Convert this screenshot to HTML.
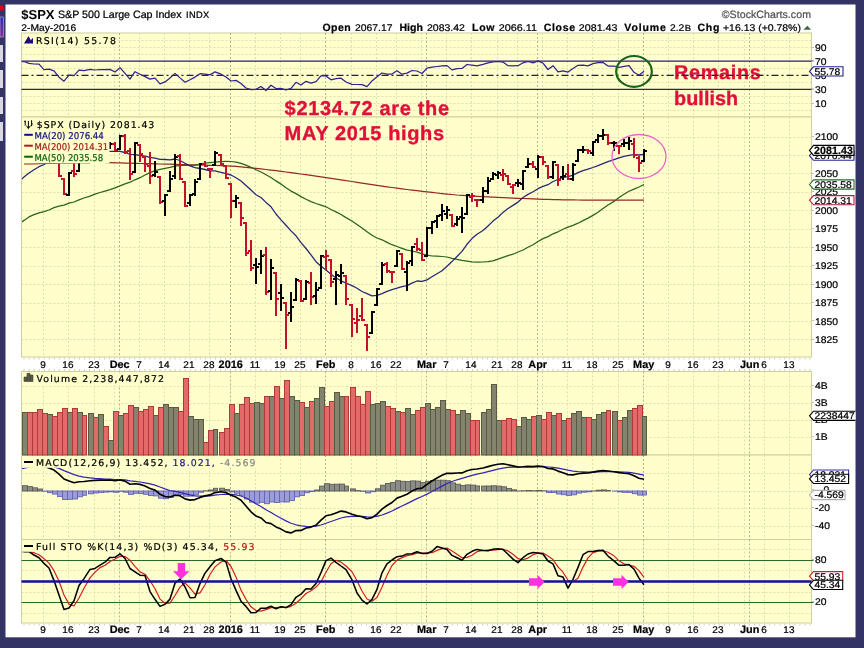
<!DOCTYPE html>
<html lang="en"><head><meta charset="utf-8"><title>$SPX S&amp;P 500 Large Cap Index</title>
<style>html,body{margin:0;padding:0;background:#333366;}body{width:864px;height:648px;overflow:hidden}svg{display:block}text{text-rendering:geometricPrecision}</style>
</head><body>
<svg width="864" height="648" viewBox="0 0 864 648">
<rect width="864" height="648" fill="#333366"/>
<rect x="5.5" y="4.5" width="850" height="632.8" fill="#fff"/>
<rect x="0" y="5.5" width="3.6" height="5" fill="#e8001c"/>
<defs><linearGradient id="lg" x1="0" y1="0" x2="0" y2="1"><stop offset="0" stop-color="#2a2ad0"/><stop offset="1" stop-color="#8a2a90"/></linearGradient></defs>
<rect x="0" y="17" width="3.4" height="20" fill="url(#lg)" stroke="#b8b8d8" stroke-width="0.6"/>
<rect x="0" y="45" width="3" height="17" fill="#d8d8e0"/>
<rect x="0" y="70" width="3" height="18" fill="#d8d8e0"/>
<rect x="0" y="97" width="3" height="17" fill="#d8d8e0"/>
<rect x="0" y="122" width="3" height="19" fill="#d8d8e0"/>
<rect x="21.5" y="33" width="790.0" height="84" fill="#ffffcc" stroke="#cfcf9f" stroke-width="1"/>
<rect x="21.5" y="117" width="790.0" height="240" fill="#ffffcc" stroke="#cfcf9f" stroke-width="1"/>
<rect x="21.5" y="371.5" width="790.0" height="83.5" fill="#ffffcc" stroke="#cfcf9f" stroke-width="1"/>
<rect x="21.5" y="455" width="790.0" height="84.5" fill="#ffffcc" stroke="#cfcf9f" stroke-width="1"/>
<rect x="21.5" y="539.5" width="790.0" height="83.5" fill="#ffffcc" stroke="#cfcf9f" stroke-width="1"/>
<line x1="43.5" y1="33" x2="43.5" y2="117" stroke="#dfdfb6" stroke-width="1" stroke-dasharray="2,2"/>
<line x1="68.5" y1="33" x2="68.5" y2="117" stroke="#dfdfb6" stroke-width="1" stroke-dasharray="2,2"/>
<line x1="94.5" y1="33" x2="94.5" y2="117" stroke="#dfdfb6" stroke-width="1" stroke-dasharray="2,2"/>
<line x1="114.5" y1="33" x2="114.5" y2="117" stroke="#dfdfb6" stroke-width="1" stroke-dasharray="2,2"/>
<line x1="139.5" y1="33" x2="139.5" y2="117" stroke="#dfdfb6" stroke-width="1" stroke-dasharray="2,2"/>
<line x1="164.5" y1="33" x2="164.5" y2="117" stroke="#dfdfb6" stroke-width="1" stroke-dasharray="2,2"/>
<line x1="189.5" y1="33" x2="189.5" y2="117" stroke="#dfdfb6" stroke-width="1" stroke-dasharray="2,2"/>
<line x1="209.5" y1="33" x2="209.5" y2="117" stroke="#dfdfb6" stroke-width="1" stroke-dasharray="2,2"/>
<line x1="255.5" y1="33" x2="255.5" y2="117" stroke="#dfdfb6" stroke-width="1" stroke-dasharray="2,2"/>
<line x1="280.5" y1="33" x2="280.5" y2="117" stroke="#dfdfb6" stroke-width="1" stroke-dasharray="2,2"/>
<line x1="300.5" y1="33" x2="300.5" y2="117" stroke="#dfdfb6" stroke-width="1" stroke-dasharray="2,2"/>
<line x1="351.5" y1="33" x2="351.5" y2="117" stroke="#dfdfb6" stroke-width="1" stroke-dasharray="2,2"/>
<line x1="376.5" y1="33" x2="376.5" y2="117" stroke="#dfdfb6" stroke-width="1" stroke-dasharray="2,2"/>
<line x1="396.5" y1="33" x2="396.5" y2="117" stroke="#dfdfb6" stroke-width="1" stroke-dasharray="2,2"/>
<line x1="421.5" y1="33" x2="421.5" y2="117" stroke="#dfdfb6" stroke-width="1" stroke-dasharray="2,2"/>
<line x1="446.5" y1="33" x2="446.5" y2="117" stroke="#dfdfb6" stroke-width="1" stroke-dasharray="2,2"/>
<line x1="471.5" y1="33" x2="471.5" y2="117" stroke="#dfdfb6" stroke-width="1" stroke-dasharray="2,2"/>
<line x1="497.5" y1="33" x2="497.5" y2="117" stroke="#dfdfb6" stroke-width="1" stroke-dasharray="2,2"/>
<line x1="517.5" y1="33" x2="517.5" y2="117" stroke="#dfdfb6" stroke-width="1" stroke-dasharray="2,2"/>
<line x1="542.5" y1="33" x2="542.5" y2="117" stroke="#dfdfb6" stroke-width="1" stroke-dasharray="2,2"/>
<line x1="567.5" y1="33" x2="567.5" y2="117" stroke="#dfdfb6" stroke-width="1" stroke-dasharray="2,2"/>
<line x1="592.5" y1="33" x2="592.5" y2="117" stroke="#dfdfb6" stroke-width="1" stroke-dasharray="2,2"/>
<line x1="618.5" y1="33" x2="618.5" y2="117" stroke="#dfdfb6" stroke-width="1" stroke-dasharray="2,2"/>
<line x1="668.5" y1="33" x2="668.5" y2="117" stroke="#dfdfb6" stroke-width="1" stroke-dasharray="2,2"/>
<line x1="693.5" y1="33" x2="693.5" y2="117" stroke="#dfdfb6" stroke-width="1" stroke-dasharray="2,2"/>
<line x1="718.5" y1="33" x2="718.5" y2="117" stroke="#dfdfb6" stroke-width="1" stroke-dasharray="2,2"/>
<line x1="744.5" y1="33" x2="744.5" y2="117" stroke="#dfdfb6" stroke-width="1" stroke-dasharray="2,2"/>
<line x1="764.5" y1="33" x2="764.5" y2="117" stroke="#dfdfb6" stroke-width="1" stroke-dasharray="2,2"/>
<line x1="789.5" y1="33" x2="789.5" y2="117" stroke="#dfdfb6" stroke-width="1" stroke-dasharray="2,2"/>
<line x1="119.5" y1="33" x2="119.5" y2="117" stroke="#b4b48c" stroke-width="1" stroke-dasharray="2,2"/>
<line x1="230.5" y1="33" x2="230.5" y2="117" stroke="#b4b48c" stroke-width="1" stroke-dasharray="2,2"/>
<line x1="325.5" y1="33" x2="325.5" y2="117" stroke="#b4b48c" stroke-width="1" stroke-dasharray="2,2"/>
<line x1="426.5" y1="33" x2="426.5" y2="117" stroke="#b4b48c" stroke-width="1" stroke-dasharray="2,2"/>
<line x1="537.5" y1="33" x2="537.5" y2="117" stroke="#b4b48c" stroke-width="1" stroke-dasharray="2,2"/>
<line x1="643.5" y1="33" x2="643.5" y2="117" stroke="#b4b48c" stroke-width="1" stroke-dasharray="2,2"/>
<line x1="749.5" y1="33" x2="749.5" y2="117" stroke="#b4b48c" stroke-width="1" stroke-dasharray="2,2"/>
<line x1="21.5" y1="40.5" x2="811.5" y2="40.5" stroke="#dfdfb6" stroke-width="1" stroke-dasharray="2,2"/>
<line x1="21.5" y1="47.5" x2="811.5" y2="47.5" stroke="#dfdfb6" stroke-width="1" stroke-dasharray="2,2"/>
<line x1="21.5" y1="54.5" x2="811.5" y2="54.5" stroke="#dfdfb6" stroke-width="1" stroke-dasharray="2,2"/>
<line x1="21.5" y1="68.5" x2="811.5" y2="68.5" stroke="#dfdfb6" stroke-width="1" stroke-dasharray="2,2"/>
<line x1="21.5" y1="82.5" x2="811.5" y2="82.5" stroke="#dfdfb6" stroke-width="1" stroke-dasharray="2,2"/>
<line x1="21.5" y1="96.5" x2="811.5" y2="96.5" stroke="#dfdfb6" stroke-width="1" stroke-dasharray="2,2"/>
<line x1="21.5" y1="103.5" x2="811.5" y2="103.5" stroke="#dfdfb6" stroke-width="1" stroke-dasharray="2,2"/>
<line x1="21.5" y1="110.5" x2="811.5" y2="110.5" stroke="#dfdfb6" stroke-width="1" stroke-dasharray="2,2"/>
<line x1="43.5" y1="117" x2="43.5" y2="357" stroke="#dfdfb6" stroke-width="1" stroke-dasharray="2,2"/>
<line x1="68.5" y1="117" x2="68.5" y2="357" stroke="#dfdfb6" stroke-width="1" stroke-dasharray="2,2"/>
<line x1="94.5" y1="117" x2="94.5" y2="357" stroke="#dfdfb6" stroke-width="1" stroke-dasharray="2,2"/>
<line x1="114.5" y1="117" x2="114.5" y2="357" stroke="#dfdfb6" stroke-width="1" stroke-dasharray="2,2"/>
<line x1="139.5" y1="117" x2="139.5" y2="357" stroke="#dfdfb6" stroke-width="1" stroke-dasharray="2,2"/>
<line x1="164.5" y1="117" x2="164.5" y2="357" stroke="#dfdfb6" stroke-width="1" stroke-dasharray="2,2"/>
<line x1="189.5" y1="117" x2="189.5" y2="357" stroke="#dfdfb6" stroke-width="1" stroke-dasharray="2,2"/>
<line x1="209.5" y1="117" x2="209.5" y2="357" stroke="#dfdfb6" stroke-width="1" stroke-dasharray="2,2"/>
<line x1="255.5" y1="117" x2="255.5" y2="357" stroke="#dfdfb6" stroke-width="1" stroke-dasharray="2,2"/>
<line x1="280.5" y1="117" x2="280.5" y2="357" stroke="#dfdfb6" stroke-width="1" stroke-dasharray="2,2"/>
<line x1="300.5" y1="117" x2="300.5" y2="357" stroke="#dfdfb6" stroke-width="1" stroke-dasharray="2,2"/>
<line x1="351.5" y1="117" x2="351.5" y2="357" stroke="#dfdfb6" stroke-width="1" stroke-dasharray="2,2"/>
<line x1="376.5" y1="117" x2="376.5" y2="357" stroke="#dfdfb6" stroke-width="1" stroke-dasharray="2,2"/>
<line x1="396.5" y1="117" x2="396.5" y2="357" stroke="#dfdfb6" stroke-width="1" stroke-dasharray="2,2"/>
<line x1="421.5" y1="117" x2="421.5" y2="357" stroke="#dfdfb6" stroke-width="1" stroke-dasharray="2,2"/>
<line x1="446.5" y1="117" x2="446.5" y2="357" stroke="#dfdfb6" stroke-width="1" stroke-dasharray="2,2"/>
<line x1="471.5" y1="117" x2="471.5" y2="357" stroke="#dfdfb6" stroke-width="1" stroke-dasharray="2,2"/>
<line x1="497.5" y1="117" x2="497.5" y2="357" stroke="#dfdfb6" stroke-width="1" stroke-dasharray="2,2"/>
<line x1="517.5" y1="117" x2="517.5" y2="357" stroke="#dfdfb6" stroke-width="1" stroke-dasharray="2,2"/>
<line x1="542.5" y1="117" x2="542.5" y2="357" stroke="#dfdfb6" stroke-width="1" stroke-dasharray="2,2"/>
<line x1="567.5" y1="117" x2="567.5" y2="357" stroke="#dfdfb6" stroke-width="1" stroke-dasharray="2,2"/>
<line x1="592.5" y1="117" x2="592.5" y2="357" stroke="#dfdfb6" stroke-width="1" stroke-dasharray="2,2"/>
<line x1="618.5" y1="117" x2="618.5" y2="357" stroke="#dfdfb6" stroke-width="1" stroke-dasharray="2,2"/>
<line x1="668.5" y1="117" x2="668.5" y2="357" stroke="#dfdfb6" stroke-width="1" stroke-dasharray="2,2"/>
<line x1="693.5" y1="117" x2="693.5" y2="357" stroke="#dfdfb6" stroke-width="1" stroke-dasharray="2,2"/>
<line x1="718.5" y1="117" x2="718.5" y2="357" stroke="#dfdfb6" stroke-width="1" stroke-dasharray="2,2"/>
<line x1="744.5" y1="117" x2="744.5" y2="357" stroke="#dfdfb6" stroke-width="1" stroke-dasharray="2,2"/>
<line x1="764.5" y1="117" x2="764.5" y2="357" stroke="#dfdfb6" stroke-width="1" stroke-dasharray="2,2"/>
<line x1="789.5" y1="117" x2="789.5" y2="357" stroke="#dfdfb6" stroke-width="1" stroke-dasharray="2,2"/>
<line x1="119.5" y1="117" x2="119.5" y2="357" stroke="#b4b48c" stroke-width="1" stroke-dasharray="2,2"/>
<line x1="230.5" y1="117" x2="230.5" y2="357" stroke="#b4b48c" stroke-width="1" stroke-dasharray="2,2"/>
<line x1="325.5" y1="117" x2="325.5" y2="357" stroke="#b4b48c" stroke-width="1" stroke-dasharray="2,2"/>
<line x1="426.5" y1="117" x2="426.5" y2="357" stroke="#b4b48c" stroke-width="1" stroke-dasharray="2,2"/>
<line x1="537.5" y1="117" x2="537.5" y2="357" stroke="#b4b48c" stroke-width="1" stroke-dasharray="2,2"/>
<line x1="643.5" y1="117" x2="643.5" y2="357" stroke="#b4b48c" stroke-width="1" stroke-dasharray="2,2"/>
<line x1="749.5" y1="117" x2="749.5" y2="357" stroke="#b4b48c" stroke-width="1" stroke-dasharray="2,2"/>
<line x1="21.5" y1="339.5" x2="811.5" y2="339.5" stroke="#dfdfb6" stroke-width="1" stroke-dasharray="2,2"/>
<line x1="21.5" y1="321.5" x2="811.5" y2="321.5" stroke="#dfdfb6" stroke-width="1" stroke-dasharray="2,2"/>
<line x1="21.5" y1="303.5" x2="811.5" y2="303.5" stroke="#dfdfb6" stroke-width="1" stroke-dasharray="2,2"/>
<line x1="21.5" y1="284.5" x2="811.5" y2="284.5" stroke="#dfdfb6" stroke-width="1" stroke-dasharray="2,2"/>
<line x1="21.5" y1="266.5" x2="811.5" y2="266.5" stroke="#dfdfb6" stroke-width="1" stroke-dasharray="2,2"/>
<line x1="21.5" y1="247.5" x2="811.5" y2="247.5" stroke="#dfdfb6" stroke-width="1" stroke-dasharray="2,2"/>
<line x1="21.5" y1="229.5" x2="811.5" y2="229.5" stroke="#dfdfb6" stroke-width="1" stroke-dasharray="2,2"/>
<line x1="21.5" y1="210.5" x2="811.5" y2="210.5" stroke="#dfdfb6" stroke-width="1" stroke-dasharray="2,2"/>
<line x1="21.5" y1="192.5" x2="811.5" y2="192.5" stroke="#dfdfb6" stroke-width="1" stroke-dasharray="2,2"/>
<line x1="21.5" y1="173.5" x2="811.5" y2="173.5" stroke="#dfdfb6" stroke-width="1" stroke-dasharray="2,2"/>
<line x1="21.5" y1="155.5" x2="811.5" y2="155.5" stroke="#dfdfb6" stroke-width="1" stroke-dasharray="2,2"/>
<line x1="21.5" y1="137.5" x2="811.5" y2="137.5" stroke="#dfdfb6" stroke-width="1" stroke-dasharray="2,2"/>
<line x1="43.5" y1="371.5" x2="43.5" y2="455" stroke="#dfdfb6" stroke-width="1" stroke-dasharray="2,2"/>
<line x1="68.5" y1="371.5" x2="68.5" y2="455" stroke="#dfdfb6" stroke-width="1" stroke-dasharray="2,2"/>
<line x1="94.5" y1="371.5" x2="94.5" y2="455" stroke="#dfdfb6" stroke-width="1" stroke-dasharray="2,2"/>
<line x1="114.5" y1="371.5" x2="114.5" y2="455" stroke="#dfdfb6" stroke-width="1" stroke-dasharray="2,2"/>
<line x1="139.5" y1="371.5" x2="139.5" y2="455" stroke="#dfdfb6" stroke-width="1" stroke-dasharray="2,2"/>
<line x1="164.5" y1="371.5" x2="164.5" y2="455" stroke="#dfdfb6" stroke-width="1" stroke-dasharray="2,2"/>
<line x1="189.5" y1="371.5" x2="189.5" y2="455" stroke="#dfdfb6" stroke-width="1" stroke-dasharray="2,2"/>
<line x1="209.5" y1="371.5" x2="209.5" y2="455" stroke="#dfdfb6" stroke-width="1" stroke-dasharray="2,2"/>
<line x1="255.5" y1="371.5" x2="255.5" y2="455" stroke="#dfdfb6" stroke-width="1" stroke-dasharray="2,2"/>
<line x1="280.5" y1="371.5" x2="280.5" y2="455" stroke="#dfdfb6" stroke-width="1" stroke-dasharray="2,2"/>
<line x1="300.5" y1="371.5" x2="300.5" y2="455" stroke="#dfdfb6" stroke-width="1" stroke-dasharray="2,2"/>
<line x1="351.5" y1="371.5" x2="351.5" y2="455" stroke="#dfdfb6" stroke-width="1" stroke-dasharray="2,2"/>
<line x1="376.5" y1="371.5" x2="376.5" y2="455" stroke="#dfdfb6" stroke-width="1" stroke-dasharray="2,2"/>
<line x1="396.5" y1="371.5" x2="396.5" y2="455" stroke="#dfdfb6" stroke-width="1" stroke-dasharray="2,2"/>
<line x1="421.5" y1="371.5" x2="421.5" y2="455" stroke="#dfdfb6" stroke-width="1" stroke-dasharray="2,2"/>
<line x1="446.5" y1="371.5" x2="446.5" y2="455" stroke="#dfdfb6" stroke-width="1" stroke-dasharray="2,2"/>
<line x1="471.5" y1="371.5" x2="471.5" y2="455" stroke="#dfdfb6" stroke-width="1" stroke-dasharray="2,2"/>
<line x1="497.5" y1="371.5" x2="497.5" y2="455" stroke="#dfdfb6" stroke-width="1" stroke-dasharray="2,2"/>
<line x1="517.5" y1="371.5" x2="517.5" y2="455" stroke="#dfdfb6" stroke-width="1" stroke-dasharray="2,2"/>
<line x1="542.5" y1="371.5" x2="542.5" y2="455" stroke="#dfdfb6" stroke-width="1" stroke-dasharray="2,2"/>
<line x1="567.5" y1="371.5" x2="567.5" y2="455" stroke="#dfdfb6" stroke-width="1" stroke-dasharray="2,2"/>
<line x1="592.5" y1="371.5" x2="592.5" y2="455" stroke="#dfdfb6" stroke-width="1" stroke-dasharray="2,2"/>
<line x1="618.5" y1="371.5" x2="618.5" y2="455" stroke="#dfdfb6" stroke-width="1" stroke-dasharray="2,2"/>
<line x1="668.5" y1="371.5" x2="668.5" y2="455" stroke="#dfdfb6" stroke-width="1" stroke-dasharray="2,2"/>
<line x1="693.5" y1="371.5" x2="693.5" y2="455" stroke="#dfdfb6" stroke-width="1" stroke-dasharray="2,2"/>
<line x1="718.5" y1="371.5" x2="718.5" y2="455" stroke="#dfdfb6" stroke-width="1" stroke-dasharray="2,2"/>
<line x1="744.5" y1="371.5" x2="744.5" y2="455" stroke="#dfdfb6" stroke-width="1" stroke-dasharray="2,2"/>
<line x1="764.5" y1="371.5" x2="764.5" y2="455" stroke="#dfdfb6" stroke-width="1" stroke-dasharray="2,2"/>
<line x1="789.5" y1="371.5" x2="789.5" y2="455" stroke="#dfdfb6" stroke-width="1" stroke-dasharray="2,2"/>
<line x1="119.5" y1="371.5" x2="119.5" y2="455" stroke="#b4b48c" stroke-width="1" stroke-dasharray="2,2"/>
<line x1="230.5" y1="371.5" x2="230.5" y2="455" stroke="#b4b48c" stroke-width="1" stroke-dasharray="2,2"/>
<line x1="325.5" y1="371.5" x2="325.5" y2="455" stroke="#b4b48c" stroke-width="1" stroke-dasharray="2,2"/>
<line x1="426.5" y1="371.5" x2="426.5" y2="455" stroke="#b4b48c" stroke-width="1" stroke-dasharray="2,2"/>
<line x1="537.5" y1="371.5" x2="537.5" y2="455" stroke="#b4b48c" stroke-width="1" stroke-dasharray="2,2"/>
<line x1="643.5" y1="371.5" x2="643.5" y2="455" stroke="#b4b48c" stroke-width="1" stroke-dasharray="2,2"/>
<line x1="749.5" y1="371.5" x2="749.5" y2="455" stroke="#b4b48c" stroke-width="1" stroke-dasharray="2,2"/>
<line x1="21.5" y1="437.5" x2="811.5" y2="437.5" stroke="#dfdfb6" stroke-width="1" stroke-dasharray="2,2"/>
<line x1="21.5" y1="420.5" x2="811.5" y2="420.5" stroke="#dfdfb6" stroke-width="1" stroke-dasharray="2,2"/>
<line x1="21.5" y1="403.5" x2="811.5" y2="403.5" stroke="#dfdfb6" stroke-width="1" stroke-dasharray="2,2"/>
<line x1="21.5" y1="386.5" x2="811.5" y2="386.5" stroke="#dfdfb6" stroke-width="1" stroke-dasharray="2,2"/>
<line x1="43.5" y1="455" x2="43.5" y2="539.5" stroke="#dfdfb6" stroke-width="1" stroke-dasharray="2,2"/>
<line x1="68.5" y1="455" x2="68.5" y2="539.5" stroke="#dfdfb6" stroke-width="1" stroke-dasharray="2,2"/>
<line x1="94.5" y1="455" x2="94.5" y2="539.5" stroke="#dfdfb6" stroke-width="1" stroke-dasharray="2,2"/>
<line x1="114.5" y1="455" x2="114.5" y2="539.5" stroke="#dfdfb6" stroke-width="1" stroke-dasharray="2,2"/>
<line x1="139.5" y1="455" x2="139.5" y2="539.5" stroke="#dfdfb6" stroke-width="1" stroke-dasharray="2,2"/>
<line x1="164.5" y1="455" x2="164.5" y2="539.5" stroke="#dfdfb6" stroke-width="1" stroke-dasharray="2,2"/>
<line x1="189.5" y1="455" x2="189.5" y2="539.5" stroke="#dfdfb6" stroke-width="1" stroke-dasharray="2,2"/>
<line x1="209.5" y1="455" x2="209.5" y2="539.5" stroke="#dfdfb6" stroke-width="1" stroke-dasharray="2,2"/>
<line x1="255.5" y1="455" x2="255.5" y2="539.5" stroke="#dfdfb6" stroke-width="1" stroke-dasharray="2,2"/>
<line x1="280.5" y1="455" x2="280.5" y2="539.5" stroke="#dfdfb6" stroke-width="1" stroke-dasharray="2,2"/>
<line x1="300.5" y1="455" x2="300.5" y2="539.5" stroke="#dfdfb6" stroke-width="1" stroke-dasharray="2,2"/>
<line x1="351.5" y1="455" x2="351.5" y2="539.5" stroke="#dfdfb6" stroke-width="1" stroke-dasharray="2,2"/>
<line x1="376.5" y1="455" x2="376.5" y2="539.5" stroke="#dfdfb6" stroke-width="1" stroke-dasharray="2,2"/>
<line x1="396.5" y1="455" x2="396.5" y2="539.5" stroke="#dfdfb6" stroke-width="1" stroke-dasharray="2,2"/>
<line x1="421.5" y1="455" x2="421.5" y2="539.5" stroke="#dfdfb6" stroke-width="1" stroke-dasharray="2,2"/>
<line x1="446.5" y1="455" x2="446.5" y2="539.5" stroke="#dfdfb6" stroke-width="1" stroke-dasharray="2,2"/>
<line x1="471.5" y1="455" x2="471.5" y2="539.5" stroke="#dfdfb6" stroke-width="1" stroke-dasharray="2,2"/>
<line x1="497.5" y1="455" x2="497.5" y2="539.5" stroke="#dfdfb6" stroke-width="1" stroke-dasharray="2,2"/>
<line x1="517.5" y1="455" x2="517.5" y2="539.5" stroke="#dfdfb6" stroke-width="1" stroke-dasharray="2,2"/>
<line x1="542.5" y1="455" x2="542.5" y2="539.5" stroke="#dfdfb6" stroke-width="1" stroke-dasharray="2,2"/>
<line x1="567.5" y1="455" x2="567.5" y2="539.5" stroke="#dfdfb6" stroke-width="1" stroke-dasharray="2,2"/>
<line x1="592.5" y1="455" x2="592.5" y2="539.5" stroke="#dfdfb6" stroke-width="1" stroke-dasharray="2,2"/>
<line x1="618.5" y1="455" x2="618.5" y2="539.5" stroke="#dfdfb6" stroke-width="1" stroke-dasharray="2,2"/>
<line x1="668.5" y1="455" x2="668.5" y2="539.5" stroke="#dfdfb6" stroke-width="1" stroke-dasharray="2,2"/>
<line x1="693.5" y1="455" x2="693.5" y2="539.5" stroke="#dfdfb6" stroke-width="1" stroke-dasharray="2,2"/>
<line x1="718.5" y1="455" x2="718.5" y2="539.5" stroke="#dfdfb6" stroke-width="1" stroke-dasharray="2,2"/>
<line x1="744.5" y1="455" x2="744.5" y2="539.5" stroke="#dfdfb6" stroke-width="1" stroke-dasharray="2,2"/>
<line x1="764.5" y1="455" x2="764.5" y2="539.5" stroke="#dfdfb6" stroke-width="1" stroke-dasharray="2,2"/>
<line x1="789.5" y1="455" x2="789.5" y2="539.5" stroke="#dfdfb6" stroke-width="1" stroke-dasharray="2,2"/>
<line x1="119.5" y1="455" x2="119.5" y2="539.5" stroke="#b4b48c" stroke-width="1" stroke-dasharray="2,2"/>
<line x1="230.5" y1="455" x2="230.5" y2="539.5" stroke="#b4b48c" stroke-width="1" stroke-dasharray="2,2"/>
<line x1="325.5" y1="455" x2="325.5" y2="539.5" stroke="#b4b48c" stroke-width="1" stroke-dasharray="2,2"/>
<line x1="426.5" y1="455" x2="426.5" y2="539.5" stroke="#b4b48c" stroke-width="1" stroke-dasharray="2,2"/>
<line x1="537.5" y1="455" x2="537.5" y2="539.5" stroke="#b4b48c" stroke-width="1" stroke-dasharray="2,2"/>
<line x1="643.5" y1="455" x2="643.5" y2="539.5" stroke="#b4b48c" stroke-width="1" stroke-dasharray="2,2"/>
<line x1="749.5" y1="455" x2="749.5" y2="539.5" stroke="#b4b48c" stroke-width="1" stroke-dasharray="2,2"/>
<line x1="21.5" y1="473.5" x2="811.5" y2="473.5" stroke="#dfdfb6" stroke-width="1" stroke-dasharray="2,2"/>
<line x1="21.5" y1="491.5" x2="811.5" y2="491.5" stroke="#dfdfb6" stroke-width="1" stroke-dasharray="2,2"/>
<line x1="21.5" y1="508.5" x2="811.5" y2="508.5" stroke="#dfdfb6" stroke-width="1" stroke-dasharray="2,2"/>
<line x1="21.5" y1="526.5" x2="811.5" y2="526.5" stroke="#dfdfb6" stroke-width="1" stroke-dasharray="2,2"/>
<line x1="43.5" y1="539.5" x2="43.5" y2="623" stroke="#dfdfb6" stroke-width="1" stroke-dasharray="2,2"/>
<line x1="68.5" y1="539.5" x2="68.5" y2="623" stroke="#dfdfb6" stroke-width="1" stroke-dasharray="2,2"/>
<line x1="94.5" y1="539.5" x2="94.5" y2="623" stroke="#dfdfb6" stroke-width="1" stroke-dasharray="2,2"/>
<line x1="114.5" y1="539.5" x2="114.5" y2="623" stroke="#dfdfb6" stroke-width="1" stroke-dasharray="2,2"/>
<line x1="139.5" y1="539.5" x2="139.5" y2="623" stroke="#dfdfb6" stroke-width="1" stroke-dasharray="2,2"/>
<line x1="164.5" y1="539.5" x2="164.5" y2="623" stroke="#dfdfb6" stroke-width="1" stroke-dasharray="2,2"/>
<line x1="189.5" y1="539.5" x2="189.5" y2="623" stroke="#dfdfb6" stroke-width="1" stroke-dasharray="2,2"/>
<line x1="209.5" y1="539.5" x2="209.5" y2="623" stroke="#dfdfb6" stroke-width="1" stroke-dasharray="2,2"/>
<line x1="255.5" y1="539.5" x2="255.5" y2="623" stroke="#dfdfb6" stroke-width="1" stroke-dasharray="2,2"/>
<line x1="280.5" y1="539.5" x2="280.5" y2="623" stroke="#dfdfb6" stroke-width="1" stroke-dasharray="2,2"/>
<line x1="300.5" y1="539.5" x2="300.5" y2="623" stroke="#dfdfb6" stroke-width="1" stroke-dasharray="2,2"/>
<line x1="351.5" y1="539.5" x2="351.5" y2="623" stroke="#dfdfb6" stroke-width="1" stroke-dasharray="2,2"/>
<line x1="376.5" y1="539.5" x2="376.5" y2="623" stroke="#dfdfb6" stroke-width="1" stroke-dasharray="2,2"/>
<line x1="396.5" y1="539.5" x2="396.5" y2="623" stroke="#dfdfb6" stroke-width="1" stroke-dasharray="2,2"/>
<line x1="421.5" y1="539.5" x2="421.5" y2="623" stroke="#dfdfb6" stroke-width="1" stroke-dasharray="2,2"/>
<line x1="446.5" y1="539.5" x2="446.5" y2="623" stroke="#dfdfb6" stroke-width="1" stroke-dasharray="2,2"/>
<line x1="471.5" y1="539.5" x2="471.5" y2="623" stroke="#dfdfb6" stroke-width="1" stroke-dasharray="2,2"/>
<line x1="497.5" y1="539.5" x2="497.5" y2="623" stroke="#dfdfb6" stroke-width="1" stroke-dasharray="2,2"/>
<line x1="517.5" y1="539.5" x2="517.5" y2="623" stroke="#dfdfb6" stroke-width="1" stroke-dasharray="2,2"/>
<line x1="542.5" y1="539.5" x2="542.5" y2="623" stroke="#dfdfb6" stroke-width="1" stroke-dasharray="2,2"/>
<line x1="567.5" y1="539.5" x2="567.5" y2="623" stroke="#dfdfb6" stroke-width="1" stroke-dasharray="2,2"/>
<line x1="592.5" y1="539.5" x2="592.5" y2="623" stroke="#dfdfb6" stroke-width="1" stroke-dasharray="2,2"/>
<line x1="618.5" y1="539.5" x2="618.5" y2="623" stroke="#dfdfb6" stroke-width="1" stroke-dasharray="2,2"/>
<line x1="668.5" y1="539.5" x2="668.5" y2="623" stroke="#dfdfb6" stroke-width="1" stroke-dasharray="2,2"/>
<line x1="693.5" y1="539.5" x2="693.5" y2="623" stroke="#dfdfb6" stroke-width="1" stroke-dasharray="2,2"/>
<line x1="718.5" y1="539.5" x2="718.5" y2="623" stroke="#dfdfb6" stroke-width="1" stroke-dasharray="2,2"/>
<line x1="744.5" y1="539.5" x2="744.5" y2="623" stroke="#dfdfb6" stroke-width="1" stroke-dasharray="2,2"/>
<line x1="764.5" y1="539.5" x2="764.5" y2="623" stroke="#dfdfb6" stroke-width="1" stroke-dasharray="2,2"/>
<line x1="789.5" y1="539.5" x2="789.5" y2="623" stroke="#dfdfb6" stroke-width="1" stroke-dasharray="2,2"/>
<line x1="119.5" y1="539.5" x2="119.5" y2="623" stroke="#b4b48c" stroke-width="1" stroke-dasharray="2,2"/>
<line x1="230.5" y1="539.5" x2="230.5" y2="623" stroke="#b4b48c" stroke-width="1" stroke-dasharray="2,2"/>
<line x1="325.5" y1="539.5" x2="325.5" y2="623" stroke="#b4b48c" stroke-width="1" stroke-dasharray="2,2"/>
<line x1="426.5" y1="539.5" x2="426.5" y2="623" stroke="#b4b48c" stroke-width="1" stroke-dasharray="2,2"/>
<line x1="537.5" y1="539.5" x2="537.5" y2="623" stroke="#b4b48c" stroke-width="1" stroke-dasharray="2,2"/>
<line x1="643.5" y1="539.5" x2="643.5" y2="623" stroke="#b4b48c" stroke-width="1" stroke-dasharray="2,2"/>
<line x1="749.5" y1="539.5" x2="749.5" y2="623" stroke="#b4b48c" stroke-width="1" stroke-dasharray="2,2"/>
<line x1="21.5" y1="549.5" x2="811.5" y2="549.5" stroke="#dfdfb6" stroke-width="1" stroke-dasharray="2,2"/>
<line x1="21.5" y1="570.5" x2="811.5" y2="570.5" stroke="#dfdfb6" stroke-width="1" stroke-dasharray="2,2"/>
<line x1="21.5" y1="592.5" x2="811.5" y2="592.5" stroke="#dfdfb6" stroke-width="1" stroke-dasharray="2,2"/>
<line x1="21.5" y1="613.5" x2="811.5" y2="613.5" stroke="#dfdfb6" stroke-width="1" stroke-dasharray="2,2"/>
<line x1="23.5" y1="358.5" x2="811" y2="358.5" stroke="#d2d2a4" stroke-width="2" stroke-dasharray="1,4.0385"/>
<line x1="23.5" y1="370" x2="811" y2="370" stroke="#d2d2a4" stroke-width="2" stroke-dasharray="1,4.0385"/>
<line x1="23.5" y1="624.5" x2="811" y2="624.5" stroke="#d2d2a4" stroke-width="2" stroke-dasharray="1,4.0385"/>
<clipPath id="call"><rect x="22" y="33" width="789.5" height="590"/></clipPath>
<line x1="21.5" y1="61.199999999999996" x2="813.5" y2="61.199999999999996" stroke="#2c1c7c" stroke-width="1.3"/>
<line x1="21.5" y1="89.39999999999999" x2="813.5" y2="89.39999999999999" stroke="#2c1c7c" stroke-width="1.3"/>
<line x1="21.5" y1="75.3" x2="811.5" y2="75.3" stroke="#24146c" stroke-width="1.3" stroke-dasharray="7,3,2,3"/>
<polyline points="19,62.1 24,61.5 29,63.4 34,64 39,64.2 44,69.6 49,69.1 54,70.8 59,77.2 64,81.2 69,75.2 74,75.7 79,70.2 84,70.7 90,69.4 95,70 100,69.5 105,69.6 110,69.4 115,72 120,67.6 125,73.4 130,79.2 135,71.7 140,74.3 145,76.6 150,79.1 155,78.2 160,83.8 165,81.9 170,78 175,73.4 180,77.9 185,82.2 190,79.8 195,77.1 200,73.7 205,74.2 210,74.9 215,71.8 221,74.2 226,77 231,81 236,80.4 241,83.5 246,88 251,89.6 256,89.3 261,86.5 266,90.5 271,85.2 276,88.5 281,88.3 286,90 291,88.3 296,82.3 301,85 306,81.3 311,83.2 316,81.7 321,75.8 326,75.9 331,79.8 336,78.6 341,78.2 346,82 352,84.4 357,84.5 362,84.6 367,86.7 372,80.9 377,76.7 382,73 387,74.1 392,74.1 397,70.8 402,74.2 407,73.1 412,70.5 417,71 422,73.5 427,68.1 432,67.2 437,66.5 442,65.8 447,65.6 452,69.9 457,68.6 462,68.5 467,64.5 472,65.1 477,65.9 483,64.4 488,62.8 493,61.8 498,61.5 503,62.1 508,65.7 513,65.9 518,65.7 523,62.8 528,61.5 533,62.9 538,60.9 543,63.2 548,69.5 553,65.7 558,71.8 563,70.8 568,72.1 573,68.5 578,65.3 583,65.2 588,65.8 593,63.7 598,62.7 603,62.4 608,66 614,66 619,67.3 624,66.4 629,65.7 634,72.3 639,75.3 644,71.2" fill="none" stroke="#32228a" stroke-width="1.25" stroke-linejoin="round" clip-path="url(#call)"/>
<polyline points="24,163.9 29,163.8 34,163.8 39,163.6 44,163.5 49,163.4 54,163.3 59,163.2 64,163.1 69,163.1 74,163 79,162.9 84,162.8 90,162.8" fill="none" stroke="#962828" stroke-width="1.25" stroke-linejoin="round" />
<polyline points="105,162.7 110,162.7 115,162.8 120,162.9 125,163.1 130,163.2 135,163.3 140,163.5 145,163.6 150,163.7 155,163.8 160,164 165,164.1 170,164.2 175,164.4 180,164.5 185,164.6 190,164.8 195,164.9 200,165 205,165.2 210,165.3 215,165.4 221,165.6 226,165.8 231,166.1 236,166.4 241,166.9 246,167.4 251,167.9 256,168.4 261,168.9 266,169.5 271,170.1 276,170.7 281,171.4 286,172 291,172.7 296,173.3 301,174 306,174.7 311,175.4 316,176.2 321,176.9 326,177.6 331,178.4 336,179.2 341,179.9 346,180.7 352,181.5 357,182.3 362,183.1 367,183.8 372,184.6 377,185.3 382,186.1 387,186.8 392,187.5 397,188.2 402,188.9 407,189.5 412,190.1 417,190.7 422,191.3 427,191.8 432,192.4 437,193 442,193.6 447,194.1 452,194.5 457,195 462,195.3 467,195.7 472,196 477,196.3 483,196.6 488,196.9 493,197.1 498,197.4 503,197.6 508,197.9 513,198.1 518,198.3 523,198.5 528,198.7 533,198.9 538,199.1 543,199.3 548,199.4 553,199.6 558,199.7 563,199.8 568,199.9 573,199.9 578,200 583,200 588,200 593,200 598,200 603,200.1 608,200.1 614,200.1 619,200.1 624,200.2 629,200.2 634,200.2 639,200.2 644,200.2" fill="none" stroke="#962828" stroke-width="1.25" stroke-linejoin="round" />
<polyline points="19,223.6 24,220.4 29,216.9 34,214.6 39,212.9 44,211.6 49,210 54,207.6 59,206.2 64,205.1 69,203.2 74,202 79,199.9 84,198 90,196.1 95,194.1 100,192.5 105,191.1 110,189.6 115,187.8 120,185.8 125,183.8 130,182.2 135,179.8 140,177.7 145,175 150,172.6 155,170.6 160,169.3 165,168.3 170,167.4 175,166.1 180,165.4 185,165.5 190,165.4 195,165.1 200,164.2 205,163.2 210,162.7 215,162.1 221,161.6 226,161.4 231,161.5 236,162.1 241,163.3 246,165.2 251,167.3 256,169.8 261,172 266,174.8 271,177.5 276,180.9 281,184.1 286,187.7 291,191.1 296,193.6 301,196.6 306,199.2 311,201.6 316,203.5 321,205.2 326,206.8 331,209.5 336,211.9 341,214.5 346,217.6 352,221 357,224.5 362,228 367,231.8 372,235.3 377,238 382,239.8 387,242.4 392,244.7 397,246.5 402,248.3 407,250.1 412,251 417,252.1 422,253.8 427,255.2 432,256 437,256.2 442,256.5 447,257 452,258.3 457,259.3 462,260.3 467,261.1 472,261.8 477,262.2 483,262 488,261.6 493,260.8 498,259.2 503,257.3 508,255.6 513,254.2 518,252 523,250 528,247.3 533,244.7 538,241.5 543,238.6 548,236.6 553,233.8 558,231.8 563,229.3 568,227.1 573,225.3 578,223.2 583,220.6 588,218.1 593,215.4 598,212.2 603,208.5 608,205 614,201.4 619,197.6 624,194.3 629,191.3 634,189.1 639,187 644,184.5" fill="none" stroke="#2a6418" stroke-width="1.25" stroke-linejoin="round" clip-path="url(#call)"/>
<polyline points="19,181.7 24,176.9 29,173 34,169.8 39,166.7 44,164.5 49,161.6 54,158.6 59,157.8 64,158.2 69,157.4 74,156.7 79,154.3 84,153.3 90,152.7 95,152.2 100,151.3 105,151.4 110,151.3 115,151.3 120,151.4 125,152.5 130,154.4 135,154.7 140,155.5 145,156.1 150,157.4 155,158.2 160,159.4 165,159.5 170,159.8 175,159 180,160.5 185,163.3 190,165.8 195,167.6 200,168.5 205,169.5 210,170.8 215,170.9 221,172.3 226,173.6 231,175 236,177.7 241,181 246,185.4 251,190 256,194.8 261,197.5 266,202.4 271,206.8 276,214 281,219.9 286,225.3 291,230.9 296,235.8 301,242.7 306,248.5 311,254.9 316,261.7 321,266.2 326,270.1 331,274.2 336,278 341,280.8 346,283.1 352,285.6 357,288.3 362,291.5 367,293.7 372,295.8 377,295.3 382,293.6 387,291.4 392,289.6 397,288.2 402,286.6 407,285.6 412,283.1 417,281 422,281.3 427,279.9 432,276.8 437,273.8 442,270.7 447,266.2 452,261.6 457,256.5 462,251.4 467,244.3 472,238.6 477,234.2 483,230.5 488,225.9 493,221.1 498,217.2 503,212.4 508,208.5 513,205.4 518,202.1 523,197.5 528,194.4 533,191.7 538,188.7 543,186.3 548,184.7 553,181.5 558,179.5 563,177.4 568,176.7 573,175.1 578,172.7 583,170.6 588,169.1 593,167.5 598,165.7 603,163.7 608,161.7 614,159.6 619,157.8 624,156.4 629,155.3 634,154.7 639,155 644,154.4" fill="none" stroke="#282878" stroke-width="1.3" stroke-linejoin="round" clip-path="url(#call)"/>
<clipPath id="cp"><rect x="22" y="117.5" width="789" height="239"/></clipPath><g clip-path="url(#cp)">
<path d="M24 125V139M21 135H24M24 130H27" stroke="#000" stroke-width="2" fill="none"/>
<path d="M29 126V139M26 129H29M29 135H32" stroke="#c4102c" stroke-width="2" fill="none"/>
<path d="M34 131V144M31 136H34M34 137H37" stroke="#c4102c" stroke-width="2" fill="none"/>
<path d="M39 136V149M36 138H39M39 138H42" stroke="#c4102c" stroke-width="2" fill="none"/>
<path d="M44 140V160M41 141H44M44 153H47" stroke="#c4102c" stroke-width="2" fill="none"/>
<path d="M49 149V159M46 154H49M49 150H52" stroke="#000" stroke-width="2" fill="none"/>
<path d="M54 147V156M51 149H54M54 155H57" stroke="#c4102c" stroke-width="2" fill="none"/>
<path d="M59 157V177M56 158H59M59 176H62" stroke="#c4102c" stroke-width="2" fill="none"/>
<path d="M64 178V195M61 179H64M64 194H67" stroke="#c4102c" stroke-width="2" fill="none"/>
<path d="M69 172V196M66 195H69M69 173H72" stroke="#000" stroke-width="2" fill="none"/>
<path d="M74 162V177M71 171H74M74 174H77" stroke="#c4102c" stroke-width="2" fill="none"/>
<path d="M79 148V172M76 171H79M79 149H82" stroke="#000" stroke-width="2" fill="none"/>
<path d="M84 147V153M81 149H84M84 151H87" stroke="#c4102c" stroke-width="2" fill="none"/>
<path d="M90 139V150M87 149H90M90 145H93" stroke="#000" stroke-width="2" fill="none"/>
<path d="M95 140V151M92 145H95M95 147H98" stroke="#c4102c" stroke-width="2" fill="none"/>
<path d="M100 141V159M97 148H100M100 145H103" stroke="#000" stroke-width="2" fill="none"/>
<path d="M105 142V147M102 145H105M105 145H108" stroke="#c4102c" stroke-width="2" fill="none"/>
<path d="M110 142V149M107 145H110M110 144H113" stroke="#000" stroke-width="2" fill="none"/>
<path d="M115 142V151M112 144H115M115 150H118" stroke="#c4102c" stroke-width="2" fill="none"/>
<path d="M120 135V150M117 149H120M120 136H123" stroke="#000" stroke-width="2" fill="none"/>
<path d="M125 134V154M122 136H125M125 152H128" stroke="#c4102c" stroke-width="2" fill="none"/>
<path d="M130 148V180M127 151H130M130 174H133" stroke="#c4102c" stroke-width="2" fill="none"/>
<path d="M135 142V173M132 172H135M135 143H138" stroke="#000" stroke-width="2" fill="none"/>
<path d="M140 144V162M137 145H140M140 154H143" stroke="#c4102c" stroke-width="2" fill="none"/>
<path d="M145 156V172M142 157H145M145 164H148" stroke="#c4102c" stroke-width="2" fill="none"/>
<path d="M150 152V184M147 166H150M150 176H153" stroke="#c4102c" stroke-width="2" fill="none"/>
<path d="M155 161V177M152 175H155M155 172H158" stroke="#000" stroke-width="2" fill="none"/>
<path d="M160 176V204M157 177H160M160 202H163" stroke="#c4102c" stroke-width="2" fill="none"/>
<path d="M165 194V216M162 201H165M165 195H168" stroke="#000" stroke-width="2" fill="none"/>
<path d="M170 171V192M167 191H170M170 179H173" stroke="#000" stroke-width="2" fill="none"/>
<path d="M175 154V179M172 176H175M175 157H178" stroke="#000" stroke-width="2" fill="none"/>
<path d="M180 154V180M177 156H180M180 179H183" stroke="#c4102c" stroke-width="2" fill="none"/>
<path d="M185 181V207M182 182H185M185 206H188" stroke="#c4102c" stroke-width="2" fill="none"/>
<path d="M190 194V206M187 203H190M190 195H193" stroke="#000" stroke-width="2" fill="none"/>
<path d="M195 179V196M192 194H195M195 182H198" stroke="#000" stroke-width="2" fill="none"/>
<path d="M200 163V180M197 179H200M200 164H203" stroke="#000" stroke-width="2" fill="none"/>
<path d="M205 161V167M202 164H205M205 166H208" stroke="#c4102c" stroke-width="2" fill="none"/>
<path d="M210 168V178M207 169H210M210 169H213" stroke="#c4102c" stroke-width="2" fill="none"/>
<path d="M215 151V166M212 165H215M215 153H218" stroke="#000" stroke-width="2" fill="none"/>
<path d="M221 154V165M218 155H221M221 164H224" stroke="#c4102c" stroke-width="2" fill="none"/>
<path d="M226 165V179M223 166H226M226 178H229" stroke="#c4102c" stroke-width="2" fill="none"/>
<path d="M231 183V218M228 184H231M231 201H234" stroke="#c4102c" stroke-width="2" fill="none"/>
<path d="M236 195V208M233 201H236M236 198H239" stroke="#000" stroke-width="2" fill="none"/>
<path d="M241 202V226M238 203H241M241 218H244" stroke="#c4102c" stroke-width="2" fill="none"/>
<path d="M246 222V256M243 223H246M246 253H249" stroke="#c4102c" stroke-width="2" fill="none"/>
<path d="M251 240V271M248 251H251M251 268H254" stroke="#c4102c" stroke-width="2" fill="none"/>
<path d="M256 258V284M253 265H256M256 267H259" stroke="#000" stroke-width="2" fill="none"/>
<path d="M261 250V274M258 264H261M261 256H264" stroke="#000" stroke-width="2" fill="none"/>
<path d="M266 247V295M263 255H266M266 292H269" stroke="#c4102c" stroke-width="2" fill="none"/>
<path d="M271 259V300M268 291H271M271 268H274" stroke="#000" stroke-width="2" fill="none"/>
<path d="M276 272V316M273 273H276M276 299H279" stroke="#c4102c" stroke-width="2" fill="none"/>
<path d="M281 284V311M278 293H281M281 298H284" stroke="#000" stroke-width="2" fill="none"/>
<path d="M286 302V349M283 303H286M286 315H289" stroke="#c4102c" stroke-width="2" fill="none"/>
<path d="M291 292V322M288 313H291M291 307H294" stroke="#000" stroke-width="2" fill="none"/>
<path d="M296 278V301M293 300H296M296 280H299" stroke="#000" stroke-width="2" fill="none"/>
<path d="M301 280V302M298 281H301M301 301H304" stroke="#c4102c" stroke-width="2" fill="none"/>
<path d="M306 280V300M303 299H306M306 282H309" stroke="#000" stroke-width="2" fill="none"/>
<path d="M311 272V305M308 283H311M311 297H314" stroke="#c4102c" stroke-width="2" fill="none"/>
<path d="M316 282V304M313 296H316M316 290H319" stroke="#000" stroke-width="2" fill="none"/>
<path d="M321 255V289M318 288H321M321 256H324" stroke="#000" stroke-width="2" fill="none"/>
<path d="M326 250V270M323 257H326M326 256H329" stroke="#c4102c" stroke-width="2" fill="none"/>
<path d="M331 259V287M328 260H331M331 282H334" stroke="#c4102c" stroke-width="2" fill="none"/>
<path d="M336 271V305M333 279H336M336 275H339" stroke="#000" stroke-width="2" fill="none"/>
<path d="M341 264V284M338 276H341M341 273H344" stroke="#000" stroke-width="2" fill="none"/>
<path d="M346 275V305M343 276H346M346 299H349" stroke="#c4102c" stroke-width="2" fill="none"/>
<path d="M352 304V337M349 305H352M352 319H355" stroke="#c4102c" stroke-width="2" fill="none"/>
<path d="M357 308V333M354 323H357M357 320H360" stroke="#c4102c" stroke-width="2" fill="none"/>
<path d="M362 298V321M359 316H362M362 320H365" stroke="#c4102c" stroke-width="2" fill="none"/>
<path d="M367 324V351M364 325H367M367 337H370" stroke="#c4102c" stroke-width="2" fill="none"/>
<path d="M372 311V334M369 333H372M372 312H375" stroke="#000" stroke-width="2" fill="none"/>
<path d="M377 288V306M374 305H377M377 289H380" stroke="#000" stroke-width="2" fill="none"/>
<path d="M382 262V285M379 284H382M382 265H385" stroke="#000" stroke-width="2" fill="none"/>
<path d="M387 262V273M384 264H387M387 271H390" stroke="#c4102c" stroke-width="2" fill="none"/>
<path d="M392 271V283M389 272H392M392 272H395" stroke="#c4102c" stroke-width="2" fill="none"/>
<path d="M397 250V267M394 266H397M397 251H400" stroke="#000" stroke-width="2" fill="none"/>
<path d="M402 253V270M399 254H402M402 269H405" stroke="#c4102c" stroke-width="2" fill="none"/>
<path d="M407 261V291M404 272H407M407 263H410" stroke="#000" stroke-width="2" fill="none"/>
<path d="M412 246V266M409 261H412M412 247H415" stroke="#000" stroke-width="2" fill="none"/>
<path d="M417 238V251M414 244H417M417 249H420" stroke="#c4102c" stroke-width="2" fill="none"/>
<path d="M422 242V261M419 250H422M422 260H425" stroke="#c4102c" stroke-width="2" fill="none"/>
<path d="M427 227V257M424 256H427M427 228H430" stroke="#000" stroke-width="2" fill="none"/>
<path d="M432 221V234M429 228H432M432 222H435" stroke="#000" stroke-width="2" fill="none"/>
<path d="M437 215V228M434 221H437M437 216H440" stroke="#000" stroke-width="2" fill="none"/>
<path d="M442 204V221M439 215H442M442 211H445" stroke="#000" stroke-width="2" fill="none"/>
<path d="M447 206V219M444 214H447M447 210H450" stroke="#000" stroke-width="2" fill="none"/>
<path d="M452 214V227M449 215H452M452 226H455" stroke="#c4102c" stroke-width="2" fill="none"/>
<path d="M457 216V226M454 224H457M457 219H460" stroke="#000" stroke-width="2" fill="none"/>
<path d="M462 207V233M459 217H462M462 218H465" stroke="#000" stroke-width="2" fill="none"/>
<path d="M467 194V215M464 214H467M467 195H470" stroke="#000" stroke-width="2" fill="none"/>
<path d="M472 193V202M469 197H472M472 196H475" stroke="#c4102c" stroke-width="2" fill="none"/>
<path d="M477 199V207M474 200H477M477 200H480" stroke="#c4102c" stroke-width="2" fill="none"/>
<path d="M483 187V203M480 200H483M483 191H486" stroke="#000" stroke-width="2" fill="none"/>
<path d="M488 177V194M485 191H488M488 181H491" stroke="#000" stroke-width="2" fill="none"/>
<path d="M493 172V180M490 179H493M493 174H496" stroke="#000" stroke-width="2" fill="none"/>
<path d="M498 171V179M495 175H498M498 173H501" stroke="#000" stroke-width="2" fill="none"/>
<path d="M503 169V181M500 175H503M503 174H506" stroke="#c4102c" stroke-width="2" fill="none"/>
<path d="M508 175V185M505 176H508M508 184H511" stroke="#c4102c" stroke-width="2" fill="none"/>
<path d="M513 184V194M510 187H513M513 185H516" stroke="#c4102c" stroke-width="2" fill="none"/>
<path d="M518 179V187M515 183H518M518 183H521" stroke="#000" stroke-width="2" fill="none"/>
<path d="M523 170V190M520 184H523M523 171H526" stroke="#000" stroke-width="2" fill="none"/>
<path d="M528 158V168M525 167H528M528 164H531" stroke="#000" stroke-width="2" fill="none"/>
<path d="M533 161V168M530 164H533M533 167H536" stroke="#c4102c" stroke-width="2" fill="none"/>
<path d="M538 155V178M535 169H538M538 157H541" stroke="#000" stroke-width="2" fill="none"/>
<path d="M543 156V165M540 157H543M543 162H546" stroke="#c4102c" stroke-width="2" fill="none"/>
<path d="M548 165V179M545 166H548M548 177H551" stroke="#c4102c" stroke-width="2" fill="none"/>
<path d="M553 161V179M550 177H553M553 162H556" stroke="#000" stroke-width="2" fill="none"/>
<path d="M558 164V186M555 165H558M558 180H561" stroke="#c4102c" stroke-width="2" fill="none"/>
<path d="M563 166V180M560 177H563M563 176H566" stroke="#000" stroke-width="2" fill="none"/>
<path d="M568 164V180M565 174H568M568 179H571" stroke="#c4102c" stroke-width="2" fill="none"/>
<path d="M573 163V181M570 179H573M573 165H576" stroke="#000" stroke-width="2" fill="none"/>
<path d="M578 149V162M575 161H578M578 150H581" stroke="#000" stroke-width="2" fill="none"/>
<path d="M583 146V153M580 150H583M583 150H586" stroke="#000" stroke-width="2" fill="none"/>
<path d="M588 149V154M585 150H588M588 151H591" stroke="#c4102c" stroke-width="2" fill="none"/>
<path d="M593 141V156M590 153H593M593 142H596" stroke="#000" stroke-width="2" fill="none"/>
<path d="M598 134V143M595 140H598M598 136H601" stroke="#000" stroke-width="2" fill="none"/>
<path d="M603 129V140M600 136H603M603 135H606" stroke="#000" stroke-width="2" fill="none"/>
<path d="M608 134V145M605 135H608M608 143H611" stroke="#c4102c" stroke-width="2" fill="none"/>
<path d="M614 141V151M611 143H614M614 143H617" stroke="#000" stroke-width="2" fill="none"/>
<path d="M619 145V154M616 146H619M619 146H622" stroke="#c4102c" stroke-width="2" fill="none"/>
<path d="M624 139V147M621 144H624M624 143H627" stroke="#000" stroke-width="2" fill="none"/>
<path d="M629 137V150M626 143H629M629 141H632" stroke="#000" stroke-width="2" fill="none"/>
<path d="M634 138V158M631 144H634M634 155H637" stroke="#c4102c" stroke-width="2" fill="none"/>
<path d="M639 156V172M636 158H639M639 163H642" stroke="#c4102c" stroke-width="2" fill="none"/>
<path d="M644 149V162M641 161H644M644 151H647" stroke="#000" stroke-width="2" fill="none"/>
</g>
<rect x="22" y="118" width="134" height="13.5" fill="#ffffcc"/>
<rect x="22" y="131" width="87.5" height="32.3" fill="#ffffcc"/>
<rect x="22.5" y="412.5" width="5" height="42.5" fill="#84846e" stroke="#5a5a42" stroke-width="1"/>
<rect x="27.5" y="412.5" width="5" height="42.5" fill="#e46a6a" stroke="#b03a3a" stroke-width="1"/>
<rect x="32.5" y="412.5" width="5" height="42.5" fill="#e46a6a" stroke="#b03a3a" stroke-width="1"/>
<rect x="37.5" y="409.5" width="5" height="45.5" fill="#e46a6a" stroke="#b03a3a" stroke-width="1"/>
<rect x="42.5" y="413.5" width="5" height="41.5" fill="#e46a6a" stroke="#b03a3a" stroke-width="1"/>
<rect x="47.5" y="414.5" width="5" height="40.5" fill="#84846e" stroke="#5a5a42" stroke-width="1"/>
<rect x="52.5" y="416.5" width="5" height="38.5" fill="#e46a6a" stroke="#b03a3a" stroke-width="1"/>
<rect x="57.5" y="412.5" width="5" height="42.5" fill="#e46a6a" stroke="#b03a3a" stroke-width="1"/>
<rect x="62.5" y="408.5" width="5" height="46.5" fill="#e46a6a" stroke="#b03a3a" stroke-width="1"/>
<rect x="67.5" y="412.5" width="5" height="42.5" fill="#84846e" stroke="#5a5a42" stroke-width="1"/>
<rect x="72.5" y="408.5" width="5" height="46.5" fill="#e46a6a" stroke="#b03a3a" stroke-width="1"/>
<rect x="77.5" y="412.5" width="5" height="42.5" fill="#84846e" stroke="#5a5a42" stroke-width="1"/>
<rect x="82.5" y="415.5" width="4" height="39.5" fill="#e46a6a" stroke="#b03a3a" stroke-width="1"/>
<rect x="88.5" y="413.5" width="5" height="41.5" fill="#84846e" stroke="#5a5a42" stroke-width="1"/>
<rect x="93.5" y="417.5" width="5" height="37.5" fill="#e46a6a" stroke="#b03a3a" stroke-width="1"/>
<rect x="98.5" y="414.5" width="5" height="40.5" fill="#84846e" stroke="#5a5a42" stroke-width="1"/>
<rect x="103.5" y="426.5" width="5" height="28.5" fill="#e46a6a" stroke="#b03a3a" stroke-width="1"/>
<rect x="108.5" y="440.5" width="5" height="14.5" fill="#84846e" stroke="#5a5a42" stroke-width="1"/>
<rect x="113.5" y="411.5" width="5" height="43.5" fill="#e46a6a" stroke="#b03a3a" stroke-width="1"/>
<rect x="118.5" y="415.5" width="5" height="39.5" fill="#84846e" stroke="#5a5a42" stroke-width="1"/>
<rect x="123.5" y="413.5" width="5" height="41.5" fill="#e46a6a" stroke="#b03a3a" stroke-width="1"/>
<rect x="128.5" y="405.5" width="5" height="49.5" fill="#e46a6a" stroke="#b03a3a" stroke-width="1"/>
<rect x="133.5" y="407.5" width="5" height="47.5" fill="#84846e" stroke="#5a5a42" stroke-width="1"/>
<rect x="138.5" y="411.5" width="5" height="43.5" fill="#e46a6a" stroke="#b03a3a" stroke-width="1"/>
<rect x="143.5" y="409.5" width="5" height="45.5" fill="#e46a6a" stroke="#b03a3a" stroke-width="1"/>
<rect x="148.5" y="406.5" width="5" height="48.5" fill="#e46a6a" stroke="#b03a3a" stroke-width="1"/>
<rect x="153.5" y="415.5" width="5" height="39.5" fill="#84846e" stroke="#5a5a42" stroke-width="1"/>
<rect x="158.5" y="407.5" width="5" height="47.5" fill="#e46a6a" stroke="#b03a3a" stroke-width="1"/>
<rect x="163.5" y="404.5" width="5" height="50.5" fill="#84846e" stroke="#5a5a42" stroke-width="1"/>
<rect x="168.5" y="407.5" width="5" height="47.5" fill="#84846e" stroke="#5a5a42" stroke-width="1"/>
<rect x="173.5" y="407.5" width="5" height="47.5" fill="#84846e" stroke="#5a5a42" stroke-width="1"/>
<rect x="178.5" y="411.5" width="5" height="43.5" fill="#e46a6a" stroke="#b03a3a" stroke-width="1"/>
<rect x="183.5" y="378.5" width="5" height="76.5" fill="#e46a6a" stroke="#b03a3a" stroke-width="1"/>
<rect x="188.5" y="416.5" width="5" height="38.5" fill="#84846e" stroke="#5a5a42" stroke-width="1"/>
<rect x="193.5" y="419.5" width="5" height="35.5" fill="#84846e" stroke="#5a5a42" stroke-width="1"/>
<rect x="198.5" y="419.5" width="5" height="35.5" fill="#84846e" stroke="#5a5a42" stroke-width="1"/>
<rect x="203.5" y="442.5" width="5" height="12.5" fill="#e46a6a" stroke="#b03a3a" stroke-width="1"/>
<rect x="208.5" y="430.5" width="5" height="24.5" fill="#e46a6a" stroke="#b03a3a" stroke-width="1"/>
<rect x="213.5" y="429.5" width="4" height="25.5" fill="#84846e" stroke="#5a5a42" stroke-width="1"/>
<rect x="219.5" y="432.5" width="5" height="22.5" fill="#e46a6a" stroke="#b03a3a" stroke-width="1"/>
<rect x="224.5" y="428.5" width="5" height="26.5" fill="#e46a6a" stroke="#b03a3a" stroke-width="1"/>
<rect x="229.5" y="404.5" width="5" height="50.5" fill="#e46a6a" stroke="#b03a3a" stroke-width="1"/>
<rect x="234.5" y="413.5" width="5" height="41.5" fill="#84846e" stroke="#5a5a42" stroke-width="1"/>
<rect x="239.5" y="404.5" width="5" height="50.5" fill="#e46a6a" stroke="#b03a3a" stroke-width="1"/>
<rect x="244.5" y="397.5" width="5" height="57.5" fill="#e46a6a" stroke="#b03a3a" stroke-width="1"/>
<rect x="249.5" y="403.5" width="5" height="51.5" fill="#e46a6a" stroke="#b03a3a" stroke-width="1"/>
<rect x="254.5" y="402.5" width="5" height="52.5" fill="#84846e" stroke="#5a5a42" stroke-width="1"/>
<rect x="259.5" y="403.5" width="5" height="51.5" fill="#84846e" stroke="#5a5a42" stroke-width="1"/>
<rect x="264.5" y="396.5" width="5" height="58.5" fill="#e46a6a" stroke="#b03a3a" stroke-width="1"/>
<rect x="269.5" y="396.5" width="5" height="58.5" fill="#84846e" stroke="#5a5a42" stroke-width="1"/>
<rect x="274.5" y="386.5" width="5" height="68.5" fill="#e46a6a" stroke="#b03a3a" stroke-width="1"/>
<rect x="279.5" y="398.5" width="5" height="56.5" fill="#84846e" stroke="#5a5a42" stroke-width="1"/>
<rect x="284.5" y="380.5" width="5" height="74.5" fill="#e46a6a" stroke="#b03a3a" stroke-width="1"/>
<rect x="289.5" y="396.5" width="5" height="58.5" fill="#84846e" stroke="#5a5a42" stroke-width="1"/>
<rect x="294.5" y="400.5" width="5" height="54.5" fill="#84846e" stroke="#5a5a42" stroke-width="1"/>
<rect x="299.5" y="402.5" width="5" height="52.5" fill="#e46a6a" stroke="#b03a3a" stroke-width="1"/>
<rect x="304.5" y="407.5" width="5" height="47.5" fill="#84846e" stroke="#5a5a42" stroke-width="1"/>
<rect x="309.5" y="401.5" width="5" height="53.5" fill="#e46a6a" stroke="#b03a3a" stroke-width="1"/>
<rect x="314.5" y="398.5" width="5" height="56.5" fill="#84846e" stroke="#5a5a42" stroke-width="1"/>
<rect x="319.5" y="387.5" width="5" height="67.5" fill="#84846e" stroke="#5a5a42" stroke-width="1"/>
<rect x="324.5" y="406.5" width="5" height="48.5" fill="#e46a6a" stroke="#b03a3a" stroke-width="1"/>
<rect x="329.5" y="401.5" width="5" height="53.5" fill="#e46a6a" stroke="#b03a3a" stroke-width="1"/>
<rect x="334.5" y="392.5" width="5" height="62.5" fill="#84846e" stroke="#5a5a42" stroke-width="1"/>
<rect x="339.5" y="396.5" width="5" height="58.5" fill="#84846e" stroke="#5a5a42" stroke-width="1"/>
<rect x="344.5" y="396.5" width="4" height="58.5" fill="#e46a6a" stroke="#b03a3a" stroke-width="1"/>
<rect x="350.5" y="387.5" width="5" height="67.5" fill="#e46a6a" stroke="#b03a3a" stroke-width="1"/>
<rect x="355.5" y="396.5" width="5" height="58.5" fill="#e46a6a" stroke="#b03a3a" stroke-width="1"/>
<rect x="360.5" y="404.5" width="5" height="50.5" fill="#e46a6a" stroke="#b03a3a" stroke-width="1"/>
<rect x="365.5" y="391.5" width="5" height="63.5" fill="#e46a6a" stroke="#b03a3a" stroke-width="1"/>
<rect x="370.5" y="404.5" width="5" height="50.5" fill="#84846e" stroke="#5a5a42" stroke-width="1"/>
<rect x="375.5" y="403.5" width="5" height="51.5" fill="#84846e" stroke="#5a5a42" stroke-width="1"/>
<rect x="380.5" y="401.5" width="5" height="53.5" fill="#84846e" stroke="#5a5a42" stroke-width="1"/>
<rect x="385.5" y="406.5" width="5" height="48.5" fill="#e46a6a" stroke="#b03a3a" stroke-width="1"/>
<rect x="390.5" y="408.5" width="5" height="46.5" fill="#e46a6a" stroke="#b03a3a" stroke-width="1"/>
<rect x="395.5" y="411.5" width="5" height="43.5" fill="#84846e" stroke="#5a5a42" stroke-width="1"/>
<rect x="400.5" y="412.5" width="5" height="42.5" fill="#e46a6a" stroke="#b03a3a" stroke-width="1"/>
<rect x="405.5" y="408.5" width="5" height="46.5" fill="#84846e" stroke="#5a5a42" stroke-width="1"/>
<rect x="410.5" y="414.5" width="5" height="40.5" fill="#84846e" stroke="#5a5a42" stroke-width="1"/>
<rect x="415.5" y="410.5" width="5" height="44.5" fill="#e46a6a" stroke="#b03a3a" stroke-width="1"/>
<rect x="420.5" y="407.5" width="5" height="47.5" fill="#e46a6a" stroke="#b03a3a" stroke-width="1"/>
<rect x="425.5" y="403.5" width="5" height="51.5" fill="#84846e" stroke="#5a5a42" stroke-width="1"/>
<rect x="430.5" y="409.5" width="5" height="45.5" fill="#84846e" stroke="#5a5a42" stroke-width="1"/>
<rect x="435.5" y="407.5" width="5" height="47.5" fill="#84846e" stroke="#5a5a42" stroke-width="1"/>
<rect x="440.5" y="400.5" width="5" height="54.5" fill="#84846e" stroke="#5a5a42" stroke-width="1"/>
<rect x="445.5" y="409.5" width="5" height="45.5" fill="#84846e" stroke="#5a5a42" stroke-width="1"/>
<rect x="450.5" y="410.5" width="5" height="44.5" fill="#e46a6a" stroke="#b03a3a" stroke-width="1"/>
<rect x="455.5" y="414.5" width="5" height="40.5" fill="#84846e" stroke="#5a5a42" stroke-width="1"/>
<rect x="460.5" y="410.5" width="5" height="44.5" fill="#84846e" stroke="#5a5a42" stroke-width="1"/>
<rect x="465.5" y="413.5" width="5" height="41.5" fill="#84846e" stroke="#5a5a42" stroke-width="1"/>
<rect x="470.5" y="420.5" width="5" height="34.5" fill="#e46a6a" stroke="#b03a3a" stroke-width="1"/>
<rect x="475.5" y="420.5" width="4" height="34.5" fill="#e46a6a" stroke="#b03a3a" stroke-width="1"/>
<rect x="481.5" y="412.5" width="5" height="42.5" fill="#84846e" stroke="#5a5a42" stroke-width="1"/>
<rect x="486.5" y="409.5" width="5" height="45.5" fill="#84846e" stroke="#5a5a42" stroke-width="1"/>
<rect x="491.5" y="384.5" width="5" height="70.5" fill="#84846e" stroke="#5a5a42" stroke-width="1"/>
<rect x="496.5" y="420.5" width="5" height="34.5" fill="#84846e" stroke="#5a5a42" stroke-width="1"/>
<rect x="501.5" y="420.5" width="5" height="34.5" fill="#e46a6a" stroke="#b03a3a" stroke-width="1"/>
<rect x="506.5" y="418.5" width="5" height="36.5" fill="#e46a6a" stroke="#b03a3a" stroke-width="1"/>
<rect x="511.5" y="419.5" width="5" height="35.5" fill="#e46a6a" stroke="#b03a3a" stroke-width="1"/>
<rect x="516.5" y="426.5" width="5" height="28.5" fill="#84846e" stroke="#5a5a42" stroke-width="1"/>
<rect x="521.5" y="417.5" width="5" height="37.5" fill="#84846e" stroke="#5a5a42" stroke-width="1"/>
<rect x="526.5" y="419.5" width="5" height="35.5" fill="#84846e" stroke="#5a5a42" stroke-width="1"/>
<rect x="531.5" y="416.5" width="5" height="38.5" fill="#e46a6a" stroke="#b03a3a" stroke-width="1"/>
<rect x="536.5" y="415.5" width="5" height="39.5" fill="#84846e" stroke="#5a5a42" stroke-width="1"/>
<rect x="541.5" y="419.5" width="5" height="35.5" fill="#e46a6a" stroke="#b03a3a" stroke-width="1"/>
<rect x="546.5" y="412.5" width="5" height="42.5" fill="#e46a6a" stroke="#b03a3a" stroke-width="1"/>
<rect x="551.5" y="415.5" width="5" height="39.5" fill="#84846e" stroke="#5a5a42" stroke-width="1"/>
<rect x="556.5" y="413.5" width="5" height="41.5" fill="#e46a6a" stroke="#b03a3a" stroke-width="1"/>
<rect x="561.5" y="420.5" width="5" height="34.5" fill="#84846e" stroke="#5a5a42" stroke-width="1"/>
<rect x="566.5" y="418.5" width="5" height="36.5" fill="#e46a6a" stroke="#b03a3a" stroke-width="1"/>
<rect x="571.5" y="413.5" width="5" height="41.5" fill="#84846e" stroke="#5a5a42" stroke-width="1"/>
<rect x="576.5" y="411.5" width="5" height="43.5" fill="#84846e" stroke="#5a5a42" stroke-width="1"/>
<rect x="581.5" y="417.5" width="5" height="37.5" fill="#84846e" stroke="#5a5a42" stroke-width="1"/>
<rect x="586.5" y="417.5" width="5" height="37.5" fill="#e46a6a" stroke="#b03a3a" stroke-width="1"/>
<rect x="591.5" y="419.5" width="5" height="35.5" fill="#84846e" stroke="#5a5a42" stroke-width="1"/>
<rect x="596.5" y="414.5" width="5" height="40.5" fill="#84846e" stroke="#5a5a42" stroke-width="1"/>
<rect x="601.5" y="412.5" width="5" height="42.5" fill="#84846e" stroke="#5a5a42" stroke-width="1"/>
<rect x="606.5" y="410.5" width="4" height="44.5" fill="#e46a6a" stroke="#b03a3a" stroke-width="1"/>
<rect x="612.5" y="411.5" width="5" height="43.5" fill="#84846e" stroke="#5a5a42" stroke-width="1"/>
<rect x="617.5" y="420.5" width="5" height="34.5" fill="#e46a6a" stroke="#b03a3a" stroke-width="1"/>
<rect x="622.5" y="417.5" width="5" height="37.5" fill="#84846e" stroke="#5a5a42" stroke-width="1"/>
<rect x="627.5" y="410.5" width="5" height="44.5" fill="#84846e" stroke="#5a5a42" stroke-width="1"/>
<rect x="632.5" y="408.5" width="5" height="46.5" fill="#e46a6a" stroke="#b03a3a" stroke-width="1"/>
<rect x="637.5" y="405.5" width="5" height="49.5" fill="#e46a6a" stroke="#b03a3a" stroke-width="1"/>
<rect x="642.5" y="416.5" width="4" height="38.5" fill="#84846e" stroke="#5a5a42" stroke-width="1"/>
<rect x="22.5" y="485.7" width="5" height="5.3" fill="#8c8c88" stroke="#5c5c58" stroke-width="0.9"/>
<rect x="27.5" y="486.6" width="5" height="4.4" fill="#8c8c88" stroke="#5c5c58" stroke-width="0.9"/>
<rect x="32.5" y="487.8" width="5" height="3.2" fill="#8c8c88" stroke="#5c5c58" stroke-width="0.9"/>
<rect x="37.5" y="489" width="5" height="2" fill="#8c8c88" stroke="#5c5c58" stroke-width="0.9"/>
<rect x="42.5" y="491" width="5" height="0.2" fill="#9c9cd6" stroke="#6464b4" stroke-width="0.9"/>
<rect x="47.5" y="491" width="5" height="1.7" fill="#9c9cd6" stroke="#6464b4" stroke-width="0.9"/>
<rect x="52.5" y="491" width="5" height="3.1" fill="#9c9cd6" stroke="#6464b4" stroke-width="0.9"/>
<rect x="57.5" y="491" width="5" height="5.6" fill="#9c9cd6" stroke="#6464b4" stroke-width="0.9"/>
<rect x="62.5" y="491" width="5" height="8.5" fill="#9c9cd6" stroke="#6464b4" stroke-width="0.9"/>
<rect x="67.5" y="491" width="5" height="8.3" fill="#9c9cd6" stroke="#6464b4" stroke-width="0.9"/>
<rect x="72.5" y="491" width="5" height="8" fill="#9c9cd6" stroke="#6464b4" stroke-width="0.9"/>
<rect x="77.5" y="491" width="5" height="5.8" fill="#9c9cd6" stroke="#6464b4" stroke-width="0.9"/>
<rect x="82.5" y="491" width="4" height="4.3" fill="#9c9cd6" stroke="#6464b4" stroke-width="0.9"/>
<rect x="88.5" y="491" width="5" height="2.8" fill="#9c9cd6" stroke="#6464b4" stroke-width="0.9"/>
<rect x="93.5" y="491" width="5" height="2" fill="#9c9cd6" stroke="#6464b4" stroke-width="0.9"/>
<rect x="98.5" y="491" width="5" height="1.4" fill="#9c9cd6" stroke="#6464b4" stroke-width="0.9"/>
<rect x="103.5" y="491" width="5" height="1.1" fill="#9c9cd6" stroke="#6464b4" stroke-width="0.9"/>
<rect x="108.5" y="491" width="5" height="0.8" fill="#9c9cd6" stroke="#6464b4" stroke-width="0.9"/>
<rect x="113.5" y="491" width="5" height="1.3" fill="#9c9cd6" stroke="#6464b4" stroke-width="0.9"/>
<rect x="118.5" y="491" width="5" height="0.4" fill="#9c9cd6" stroke="#6464b4" stroke-width="0.9"/>
<rect x="123.5" y="491" width="5" height="1.2" fill="#9c9cd6" stroke="#6464b4" stroke-width="0.9"/>
<rect x="128.5" y="491" width="5" height="3.4" fill="#9c9cd6" stroke="#6464b4" stroke-width="0.9"/>
<rect x="133.5" y="491" width="5" height="2.3" fill="#9c9cd6" stroke="#6464b4" stroke-width="0.9"/>
<rect x="138.5" y="491" width="5" height="2.5" fill="#9c9cd6" stroke="#6464b4" stroke-width="0.9"/>
<rect x="143.5" y="491" width="5" height="3.3" fill="#9c9cd6" stroke="#6464b4" stroke-width="0.9"/>
<rect x="148.5" y="491" width="5" height="4.6" fill="#9c9cd6" stroke="#6464b4" stroke-width="0.9"/>
<rect x="153.5" y="491" width="5" height="4.9" fill="#9c9cd6" stroke="#6464b4" stroke-width="0.9"/>
<rect x="158.5" y="491" width="5" height="7.2" fill="#9c9cd6" stroke="#6464b4" stroke-width="0.9"/>
<rect x="163.5" y="491" width="5" height="7.7" fill="#9c9cd6" stroke="#6464b4" stroke-width="0.9"/>
<rect x="168.5" y="491" width="5" height="6.5" fill="#9c9cd6" stroke="#6464b4" stroke-width="0.9"/>
<rect x="173.5" y="491" width="5" height="3.7" fill="#9c9cd6" stroke="#6464b4" stroke-width="0.9"/>
<rect x="178.5" y="491" width="5" height="3.5" fill="#9c9cd6" stroke="#6464b4" stroke-width="0.9"/>
<rect x="183.5" y="491" width="5" height="5.2" fill="#9c9cd6" stroke="#6464b4" stroke-width="0.9"/>
<rect x="188.5" y="491" width="5" height="5.1" fill="#9c9cd6" stroke="#6464b4" stroke-width="0.9"/>
<rect x="193.5" y="491" width="5" height="3.8" fill="#9c9cd6" stroke="#6464b4" stroke-width="0.9"/>
<rect x="198.5" y="491" width="5" height="1.3" fill="#9c9cd6" stroke="#6464b4" stroke-width="0.9"/>
<rect x="203.5" y="490.8" width="5" height="0.2" fill="#8c8c88" stroke="#5c5c58" stroke-width="0.9"/>
<rect x="208.5" y="490" width="5" height="1" fill="#8c8c88" stroke="#5c5c58" stroke-width="0.9"/>
<rect x="213.5" y="488.3" width="4" height="2.7" fill="#8c8c88" stroke="#5c5c58" stroke-width="0.9"/>
<rect x="219.5" y="488.2" width="5" height="2.8" fill="#8c8c88" stroke="#5c5c58" stroke-width="0.9"/>
<rect x="224.5" y="489.4" width="5" height="1.6" fill="#8c8c88" stroke="#5c5c58" stroke-width="0.9"/>
<rect x="229.5" y="491" width="5" height="0.9" fill="#9c9cd6" stroke="#6464b4" stroke-width="0.9"/>
<rect x="234.5" y="491" width="5" height="2.2" fill="#9c9cd6" stroke="#6464b4" stroke-width="0.9"/>
<rect x="239.5" y="491" width="5" height="4.3" fill="#9c9cd6" stroke="#6464b4" stroke-width="0.9"/>
<rect x="244.5" y="491" width="5" height="8" fill="#9c9cd6" stroke="#6464b4" stroke-width="0.9"/>
<rect x="249.5" y="491" width="5" height="11.1" fill="#9c9cd6" stroke="#6464b4" stroke-width="0.9"/>
<rect x="254.5" y="491" width="5" height="12.2" fill="#9c9cd6" stroke="#6464b4" stroke-width="0.9"/>
<rect x="259.5" y="491" width="5" height="11.3" fill="#9c9cd6" stroke="#6464b4" stroke-width="0.9"/>
<rect x="264.5" y="491" width="5" height="12.7" fill="#9c9cd6" stroke="#6464b4" stroke-width="0.9"/>
<rect x="269.5" y="491" width="5" height="11" fill="#9c9cd6" stroke="#6464b4" stroke-width="0.9"/>
<rect x="274.5" y="491" width="5" height="11.5" fill="#9c9cd6" stroke="#6464b4" stroke-width="0.9"/>
<rect x="279.5" y="491" width="5" height="10.9" fill="#9c9cd6" stroke="#6464b4" stroke-width="0.9"/>
<rect x="284.5" y="491" width="5" height="11" fill="#9c9cd6" stroke="#6464b4" stroke-width="0.9"/>
<rect x="289.5" y="491" width="5" height="9.6" fill="#9c9cd6" stroke="#6464b4" stroke-width="0.9"/>
<rect x="294.5" y="491" width="5" height="5.8" fill="#9c9cd6" stroke="#6464b4" stroke-width="0.9"/>
<rect x="299.5" y="491" width="5" height="4.5" fill="#9c9cd6" stroke="#6464b4" stroke-width="0.9"/>
<rect x="304.5" y="491" width="5" height="1.7" fill="#9c9cd6" stroke="#6464b4" stroke-width="0.9"/>
<rect x="309.5" y="491" width="5" height="0.6" fill="#9c9cd6" stroke="#6464b4" stroke-width="0.9"/>
<rect x="314.5" y="490" width="5" height="1" fill="#8c8c88" stroke="#5c5c58" stroke-width="0.9"/>
<rect x="319.5" y="486.1" width="5" height="4.9" fill="#8c8c88" stroke="#5c5c58" stroke-width="0.9"/>
<rect x="324.5" y="483.7" width="5" height="7.3" fill="#8c8c88" stroke="#5c5c58" stroke-width="0.9"/>
<rect x="329.5" y="484.3" width="5" height="6.7" fill="#8c8c88" stroke="#5c5c58" stroke-width="0.9"/>
<rect x="334.5" y="484.2" width="5" height="6.8" fill="#8c8c88" stroke="#5c5c58" stroke-width="0.9"/>
<rect x="339.5" y="484.1" width="5" height="6.9" fill="#8c8c88" stroke="#5c5c58" stroke-width="0.9"/>
<rect x="344.5" y="486.1" width="4" height="4.9" fill="#8c8c88" stroke="#5c5c58" stroke-width="0.9"/>
<rect x="350.5" y="488.9" width="5" height="2.1" fill="#8c8c88" stroke="#5c5c58" stroke-width="0.9"/>
<rect x="355.5" y="490.6" width="5" height="0.4" fill="#8c8c88" stroke="#5c5c58" stroke-width="0.9"/>
<rect x="360.5" y="491" width="5" height="0.4" fill="#9c9cd6" stroke="#6464b4" stroke-width="0.9"/>
<rect x="365.5" y="491" width="5" height="2" fill="#9c9cd6" stroke="#6464b4" stroke-width="0.9"/>
<rect x="370.5" y="491" width="5" height="0.7" fill="#9c9cd6" stroke="#6464b4" stroke-width="0.9"/>
<rect x="375.5" y="488.8" width="5" height="2.2" fill="#8c8c88" stroke="#5c5c58" stroke-width="0.9"/>
<rect x="380.5" y="485.2" width="5" height="5.8" fill="#8c8c88" stroke="#5c5c58" stroke-width="0.9"/>
<rect x="385.5" y="483.5" width="5" height="7.5" fill="#8c8c88" stroke="#5c5c58" stroke-width="0.9"/>
<rect x="390.5" y="482.6" width="5" height="8.4" fill="#8c8c88" stroke="#5c5c58" stroke-width="0.9"/>
<rect x="395.5" y="480.7" width="5" height="10.3" fill="#8c8c88" stroke="#5c5c58" stroke-width="0.9"/>
<rect x="400.5" y="481.3" width="5" height="9.7" fill="#8c8c88" stroke="#5c5c58" stroke-width="0.9"/>
<rect x="405.5" y="481.6" width="5" height="9.4" fill="#8c8c88" stroke="#5c5c58" stroke-width="0.9"/>
<rect x="410.5" y="480.9" width="5" height="10.1" fill="#8c8c88" stroke="#5c5c58" stroke-width="0.9"/>
<rect x="415.5" y="481.1" width="5" height="9.9" fill="#8c8c88" stroke="#5c5c58" stroke-width="0.9"/>
<rect x="420.5" y="482.6" width="5" height="8.4" fill="#8c8c88" stroke="#5c5c58" stroke-width="0.9"/>
<rect x="425.5" y="481.3" width="5" height="9.7" fill="#8c8c88" stroke="#5c5c58" stroke-width="0.9"/>
<rect x="430.5" y="480.5" width="5" height="10.5" fill="#8c8c88" stroke="#5c5c58" stroke-width="0.9"/>
<rect x="435.5" y="480.2" width="5" height="10.8" fill="#8c8c88" stroke="#5c5c58" stroke-width="0.9"/>
<rect x="440.5" y="480.2" width="5" height="10.8" fill="#8c8c88" stroke="#5c5c58" stroke-width="0.9"/>
<rect x="445.5" y="480.7" width="5" height="10.3" fill="#8c8c88" stroke="#5c5c58" stroke-width="0.9"/>
<rect x="450.5" y="482.9" width="5" height="8.1" fill="#8c8c88" stroke="#5c5c58" stroke-width="0.9"/>
<rect x="455.5" y="484.2" width="5" height="6.8" fill="#8c8c88" stroke="#5c5c58" stroke-width="0.9"/>
<rect x="460.5" y="485.5" width="5" height="5.5" fill="#8c8c88" stroke="#5c5c58" stroke-width="0.9"/>
<rect x="465.5" y="484.9" width="5" height="6.1" fill="#8c8c88" stroke="#5c5c58" stroke-width="0.9"/>
<rect x="470.5" y="485.1" width="5" height="5.9" fill="#8c8c88" stroke="#5c5c58" stroke-width="0.9"/>
<rect x="475.5" y="485.9" width="4" height="5.1" fill="#8c8c88" stroke="#5c5c58" stroke-width="0.9"/>
<rect x="481.5" y="486.1" width="5" height="4.9" fill="#8c8c88" stroke="#5c5c58" stroke-width="0.9"/>
<rect x="486.5" y="486" width="5" height="5" fill="#8c8c88" stroke="#5c5c58" stroke-width="0.9"/>
<rect x="491.5" y="485.8" width="5" height="5.2" fill="#8c8c88" stroke="#5c5c58" stroke-width="0.9"/>
<rect x="496.5" y="486.1" width="5" height="4.9" fill="#8c8c88" stroke="#5c5c58" stroke-width="0.9"/>
<rect x="501.5" y="486.8" width="5" height="4.2" fill="#8c8c88" stroke="#5c5c58" stroke-width="0.9"/>
<rect x="506.5" y="488.4" width="5" height="2.6" fill="#8c8c88" stroke="#5c5c58" stroke-width="0.9"/>
<rect x="511.5" y="489.8" width="5" height="1.2" fill="#8c8c88" stroke="#5c5c58" stroke-width="0.9"/>
<rect x="516.5" y="490.9" width="5" height="0.1" fill="#8c8c88" stroke="#5c5c58" stroke-width="0.9"/>
<rect x="521.5" y="490.8" width="5" height="0.2" fill="#8c8c88" stroke="#5c5c58" stroke-width="0.9"/>
<rect x="526.5" y="490.5" width="5" height="0.5" fill="#8c8c88" stroke="#5c5c58" stroke-width="0.9"/>
<rect x="531.5" y="490.7" width="5" height="0.3" fill="#8c8c88" stroke="#5c5c58" stroke-width="0.9"/>
<rect x="536.5" y="490.4" width="5" height="0.6" fill="#8c8c88" stroke="#5c5c58" stroke-width="0.9"/>
<rect x="541.5" y="490.8" width="5" height="0.2" fill="#8c8c88" stroke="#5c5c58" stroke-width="0.9"/>
<rect x="546.5" y="491" width="5" height="1.5" fill="#9c9cd6" stroke="#6464b4" stroke-width="0.9"/>
<rect x="551.5" y="491" width="5" height="1.5" fill="#9c9cd6" stroke="#6464b4" stroke-width="0.9"/>
<rect x="556.5" y="491" width="5" height="3" fill="#9c9cd6" stroke="#6464b4" stroke-width="0.9"/>
<rect x="561.5" y="491" width="5" height="3.7" fill="#9c9cd6" stroke="#6464b4" stroke-width="0.9"/>
<rect x="566.5" y="491" width="5" height="4.4" fill="#9c9cd6" stroke="#6464b4" stroke-width="0.9"/>
<rect x="571.5" y="491" width="5" height="3.8" fill="#9c9cd6" stroke="#6464b4" stroke-width="0.9"/>
<rect x="576.5" y="491" width="5" height="2.1" fill="#9c9cd6" stroke="#6464b4" stroke-width="0.9"/>
<rect x="581.5" y="491" width="5" height="1.2" fill="#9c9cd6" stroke="#6464b4" stroke-width="0.9"/>
<rect x="586.5" y="491" width="5" height="0.8" fill="#9c9cd6" stroke="#6464b4" stroke-width="0.9"/>
<rect x="591.5" y="490.9" width="5" height="0.1" fill="#8c8c88" stroke="#5c5c58" stroke-width="0.9"/>
<rect x="596.5" y="490.2" width="5" height="0.8" fill="#8c8c88" stroke="#5c5c58" stroke-width="0.9"/>
<rect x="601.5" y="489.9" width="5" height="1.1" fill="#8c8c88" stroke="#5c5c58" stroke-width="0.9"/>
<rect x="606.5" y="490.5" width="4" height="0.5" fill="#8c8c88" stroke="#5c5c58" stroke-width="0.9"/>
<rect x="612.5" y="491" width="5" height="0.1" fill="#9c9cd6" stroke="#6464b4" stroke-width="0.9"/>
<rect x="617.5" y="491" width="5" height="0.9" fill="#9c9cd6" stroke="#6464b4" stroke-width="0.9"/>
<rect x="622.5" y="491" width="5" height="1.3" fill="#9c9cd6" stroke="#6464b4" stroke-width="0.9"/>
<rect x="627.5" y="491" width="5" height="1.4" fill="#9c9cd6" stroke="#6464b4" stroke-width="0.9"/>
<rect x="632.5" y="491" width="5" height="2.7" fill="#9c9cd6" stroke="#6464b4" stroke-width="0.9"/>
<rect x="637.5" y="491" width="5" height="4.1" fill="#9c9cd6" stroke="#6464b4" stroke-width="0.9"/>
<rect x="642.5" y="491" width="4" height="4" fill="#9c9cd6" stroke="#6464b4" stroke-width="0.9"/>
<polyline points="19,469.5 24,468.2 29,467.1 34,466.3 39,465.8 44,465.8 49,466.3 54,467 59,468.4 64,470.6 69,472.6 74,474.6 79,476.1 84,477.2 90,477.9 95,478.4 100,478.7 105,479 110,479.2 115,479.5 120,479.6 125,479.9 130,480.8 135,481.3 140,482 145,482.8 150,483.9 155,485.1 160,487 165,488.9 170,490.5 175,491.4 180,492.3 185,493.6 190,494.9 195,495.9 200,496.2 205,496.1 210,495.9 215,495.2 221,494.5 226,494.1 231,494.3 236,494.9 241,496 246,498 251,500.7 256,503.8 261,506.6 266,509.8 271,512.6 276,515.4 281,518.2 286,520.9 291,523.3 296,524.8 301,525.9 306,526.3 311,526.5 316,526.2 321,525 326,523.2 331,521.5 336,519.8 341,518 346,516.8 352,516.3 357,516.2 362,516.3 367,516.8 372,517 377,516.4 382,515 387,513.1 392,511 397,508.4 402,506 407,503.6 412,501.1 417,498.6 422,496.5 427,494.1 432,491.5 437,488.8 442,486.1 447,483.5 452,481.5 457,479.8 462,478.4 467,476.9 472,475.4 477,474.1 483,472.9 488,471.6 493,470.3 498,469.1 503,468.1 508,467.4 513,467.1 518,467.1 523,467 528,466.9 533,466.8 538,466.7 543,466.6 548,467 553,467.4 558,468.1 563,469.1 568,470.2 573,471.1 578,471.6 583,471.9 588,472.1 593,472.1 598,471.9 603,471.7 608,471.5 614,471.6 619,471.8 624,472.1 629,472.4 634,473.1 639,474.1 644,475.1" fill="none" stroke="#3424b4" stroke-width="1.2" stroke-linejoin="round" clip-path="url(#call)"/>
<polyline points="19,464.1 24,462.9 29,462.7 34,463.1 39,463.8 44,466.1 49,467.9 54,470.1 59,474.1 64,479 69,480.9 74,482.7 79,481.8 84,481.5 90,480.7 95,480.4 100,480.1 105,480.1 110,480 115,480.8 120,480 125,481.1 130,484.2 135,483.7 140,484.4 145,486 150,488.5 155,490.1 160,494.2 165,496.6 170,497 175,495.2 180,495.8 185,498.9 190,500.1 195,499.6 200,497.4 205,495.9 210,494.9 215,492.6 221,491.8 226,492.5 231,495.2 236,497.1 241,500.3 246,506 251,511.8 256,516 261,517.9 266,522.5 271,523.6 276,526.9 281,529.1 286,531.9 291,532.9 296,530.6 301,530.4 306,528 311,527.1 316,525.2 321,520.1 326,515.8 331,514.8 336,513 341,511.1 346,511.9 352,514.2 357,515.8 362,516.7 367,518.8 372,517.6 377,514.2 382,509.1 387,505.5 392,502.5 397,498.1 402,496.3 407,494.2 412,491 417,488.7 422,488.1 427,484.4 432,481 437,478 442,475.3 447,473.2 452,473.4 457,473 462,472.9 467,470.8 472,469.5 477,469 483,468 488,466.6 493,465.2 498,464.2 503,463.8 508,464.8 513,465.9 518,467 523,466.8 528,466.4 533,466.6 538,466.1 543,466.5 548,468.5 553,468.9 558,471.1 563,472.8 568,474.6 573,474.9 578,473.8 583,473.1 588,473 593,472.1 598,471.1 603,470.5 608,471 614,471.7 619,472.6 624,473.3 629,473.8 634,475.8 639,478.2 644,479.2" fill="none" stroke="#000" stroke-width="1.65" stroke-linejoin="round" clip-path="url(#call)"/>
<line x1="21.5" y1="560.5" x2="813.5" y2="560.5" stroke="#2a6a2a" stroke-width="1.2"/>
<line x1="21.5" y1="602.5" x2="813.5" y2="602.5" stroke="#2a6a2a" stroke-width="1.2"/>
<polyline points="19,550.8 24,551.1 29,551.4 34,552.7 39,554.8 44,558.7 49,563.1 54,570.7 59,581.2 64,595 69,604.1 74,606 79,598.1 84,588.3 90,577.9 95,572.2 100,567.6 105,565.2 110,561.5 115,559 120,556.2 125,556.5 130,560.3 135,566.3 140,571.9 145,574.2 150,580.8 155,588.8 160,599.1 165,603.3 170,603.2 175,595.5 180,587.1 185,583 190,587.9 195,594.1 200,592.9 205,584.7 210,574.5 215,566.9 221,562 226,560.5 231,566.5 236,577.1 241,590.1 246,599.3 251,606.8 256,610.5 261,611.1 266,609.6 271,607.6 276,607.7 281,607.2 286,607.7 291,606.3 296,603.2 301,598.7 306,593.5 311,590.7 316,587.1 321,581.7 326,572.2 331,563.7 336,560.3 341,562.1 346,566 352,571.8 357,580.8 362,591 367,599 372,601.2 377,597.6 382,587.2 387,575.3 392,565.5 397,560.1 402,557.6 407,555.6 412,554.6 417,553.1 422,553 427,552.9 432,552.7 437,550.4 442,548.6 447,548.1 452,551 457,554.2 462,557.8 467,557.4 472,555.3 477,551.7 483,550.4 488,550.2 493,550.2 498,549.7 503,549.2 508,550.9 513,554.3 518,558.7 523,559.8 528,558.1 533,554.7 538,553.2 543,553.1 548,556 553,559.6 558,566.9 563,572.2 568,580.3 573,581.5 578,578.3 583,567.1 588,557.9 593,552.6 598,551.1 603,550.7 608,552.3 614,555.8 619,560.8 624,563.8 629,565 634,566.3 639,570.6 644,577.3" fill="none" stroke="#d02020" stroke-width="1.2" stroke-linejoin="round" clip-path="url(#call)"/>
<polyline points="19,551 24,551.6 29,551.6 34,555 39,557.8 44,563.4 49,568 54,580.6 59,594.9 64,609.4 69,608 74,600.7 79,585.5 84,578.7 90,569.4 95,568.4 100,565.1 105,562.2 110,557.4 115,557.3 120,553.8 125,558.5 130,568.5 135,571.8 140,575.2 145,575.5 150,591.6 155,599.3 160,606.4 165,604.2 170,599.1 175,583.2 180,579 185,586.9 190,597.8 195,597.5 200,583.6 205,573.2 210,566.8 215,560.8 221,558.5 226,562.1 231,578.7 236,590.4 241,601.2 246,606.4 251,612.7 256,612.4 261,608.2 266,608.3 271,606.2 276,608.7 281,606.8 286,607.6 291,604.6 296,597.3 301,594.2 306,588.8 311,589.1 316,583.5 321,572.6 326,560.6 331,558.1 336,562.3 341,566 346,569.6 352,579.8 357,593 362,600.1 367,604 372,599.4 377,589.4 382,572.8 387,563.8 392,560 397,556.7 402,556.1 407,553.9 412,553.8 417,551.7 422,553.5 427,553.5 432,551.2 437,546.6 442,548.1 447,549.5 452,555.4 457,557.8 462,560.2 467,554.3 472,551.3 477,549.4 483,550.5 488,550.8 493,549.3 498,548.8 503,549.5 508,554.3 513,559.1 518,562.6 523,557.7 528,554 533,552.6 538,552.9 543,554 548,561 553,563.9 558,575.7 563,577.1 568,588.1 573,579.3 578,567.4 583,554.7 588,551.6 593,551.4 598,550.5 603,550.3 608,556.1 614,560.9 619,565.3 624,565.3 629,564.6 634,569.1 639,578.2 644,584.8" fill="none" stroke="#000" stroke-width="1.55" stroke-linejoin="round" clip-path="url(#call)"/>
<line x1="21.5" y1="581.5" x2="811.5" y2="581.5" stroke="#10109a" stroke-width="2.3"/>
<rect x="22" y="34" width="96" height="13" fill="#ffffcc"/>
<rect x="22" y="372.5" width="144" height="12.5" fill="#ffffcc"/>
<rect x="22" y="456" width="236" height="11.8" fill="#ffffcc"/>
<rect x="22" y="540.5" width="235" height="11.3" fill="#ffffcc"/>
<line x1="811.5" y1="47.5" x2="814" y2="47.5" stroke="#c4c498" stroke-width="1"/>
<text transform="translate(815 50.7) scale(1.066 1)" font-family='"Liberation Sans", Arial, sans-serif' font-size="9.7" fill="#000"  stroke="#000" stroke-width="0.22">90</text>
<line x1="811.5" y1="61.5" x2="814" y2="61.5" stroke="#c4c498" stroke-width="1"/>
<text transform="translate(815 64.8) scale(1.066 1)" font-family='"Liberation Sans", Arial, sans-serif' font-size="9.7" fill="#000"  stroke="#000" stroke-width="0.22">70</text>
<line x1="811.5" y1="75.5" x2="814" y2="75.5" stroke="#c4c498" stroke-width="1"/>
<text transform="translate(815 78.9) scale(1.066 1)" font-family='"Liberation Sans", Arial, sans-serif' font-size="9.7" fill="#000"  stroke="#000" stroke-width="0.22">50</text>
<line x1="811.5" y1="89.5" x2="814" y2="89.5" stroke="#c4c498" stroke-width="1"/>
<text transform="translate(815 93) scale(1.066 1)" font-family='"Liberation Sans", Arial, sans-serif' font-size="9.7" fill="#000"  stroke="#000" stroke-width="0.22">30</text>
<line x1="811.5" y1="103.5" x2="814" y2="103.5" stroke="#c4c498" stroke-width="1"/>
<text transform="translate(815 107.1) scale(1.066 1)" font-family='"Liberation Sans", Arial, sans-serif' font-size="9.7" fill="#000"  stroke="#000" stroke-width="0.22">10</text>
<line x1="811.5" y1="339.5" x2="814" y2="339.5" stroke="#c4c498" stroke-width="1"/>
<text transform="translate(815 342.9) scale(1.066 1)" font-family='"Liberation Sans", Arial, sans-serif' font-size="9.7" fill="#000"  stroke="#000" stroke-width="0.22">1825</text>
<line x1="811.5" y1="320.5" x2="814" y2="320.5" stroke="#c4c498" stroke-width="1"/>
<text transform="translate(815 324.5) scale(1.066 1)" font-family='"Liberation Sans", Arial, sans-serif' font-size="9.7" fill="#000"  stroke="#000" stroke-width="0.22">1850</text>
<line x1="811.5" y1="302.5" x2="814" y2="302.5" stroke="#c4c498" stroke-width="1"/>
<text transform="translate(815 306.1) scale(1.066 1)" font-family='"Liberation Sans", Arial, sans-serif' font-size="9.7" fill="#000"  stroke="#000" stroke-width="0.22">1875</text>
<line x1="811.5" y1="284.5" x2="814" y2="284.5" stroke="#c4c498" stroke-width="1"/>
<text transform="translate(815 287.6) scale(1.066 1)" font-family='"Liberation Sans", Arial, sans-serif' font-size="9.7" fill="#000"  stroke="#000" stroke-width="0.22">1900</text>
<line x1="811.5" y1="265.5" x2="814" y2="265.5" stroke="#c4c498" stroke-width="1"/>
<text transform="translate(815 269.1) scale(1.066 1)" font-family='"Liberation Sans", Arial, sans-serif' font-size="9.7" fill="#000"  stroke="#000" stroke-width="0.22">1925</text>
<line x1="811.5" y1="247.5" x2="814" y2="247.5" stroke="#c4c498" stroke-width="1"/>
<text transform="translate(815 250.7) scale(1.066 1)" font-family='"Liberation Sans", Arial, sans-serif' font-size="9.7" fill="#000"  stroke="#000" stroke-width="0.22">1950</text>
<line x1="811.5" y1="228.5" x2="814" y2="228.5" stroke="#c4c498" stroke-width="1"/>
<text transform="translate(815 232.2) scale(1.066 1)" font-family='"Liberation Sans", Arial, sans-serif' font-size="9.7" fill="#000"  stroke="#000" stroke-width="0.22">1975</text>
<line x1="811.5" y1="210.5" x2="814" y2="210.5" stroke="#c4c498" stroke-width="1"/>
<text transform="translate(815 213.8) scale(1.066 1)" font-family='"Liberation Sans", Arial, sans-serif' font-size="9.7" fill="#000"  stroke="#000" stroke-width="0.22">2000</text>
<line x1="811.5" y1="191.5" x2="814" y2="191.5" stroke="#c4c498" stroke-width="1"/>
<text transform="translate(815 195.3) scale(1.066 1)" font-family='"Liberation Sans", Arial, sans-serif' font-size="9.7" fill="#000"  stroke="#000" stroke-width="0.22">2025</text>
<line x1="811.5" y1="173.5" x2="814" y2="173.5" stroke="#c4c498" stroke-width="1"/>
<text transform="translate(815 176.9) scale(1.066 1)" font-family='"Liberation Sans", Arial, sans-serif' font-size="9.7" fill="#000"  stroke="#000" stroke-width="0.22">2050</text>
<line x1="811.5" y1="154.5" x2="814" y2="154.5" stroke="#c4c498" stroke-width="1"/>
<text transform="translate(815 158.4) scale(1.066 1)" font-family='"Liberation Sans", Arial, sans-serif' font-size="9.7" fill="#000"  stroke="#000" stroke-width="0.22">2075</text>
<line x1="811.5" y1="136.5" x2="814" y2="136.5" stroke="#c4c498" stroke-width="1"/>
<text transform="translate(815 140) scale(1.066 1)" font-family='"Liberation Sans", Arial, sans-serif' font-size="9.7" fill="#000"  stroke="#000" stroke-width="0.22">2100</text>
<line x1="811.5" y1="436.5" x2="814" y2="436.5" stroke="#c4c498" stroke-width="1"/>
<text transform="translate(815 440.1) scale(1.066 1)" font-family='"Liberation Sans", Arial, sans-serif' font-size="9.7" fill="#000"  stroke="#000" stroke-width="0.22">1B</text>
<line x1="811.5" y1="419.5" x2="814" y2="419.5" stroke="#c4c498" stroke-width="1"/>
<text transform="translate(815 423.2) scale(1.066 1)" font-family='"Liberation Sans", Arial, sans-serif' font-size="9.7" fill="#000"  stroke="#000" stroke-width="0.22">2B</text>
<line x1="811.5" y1="402.5" x2="814" y2="402.5" stroke="#c4c498" stroke-width="1"/>
<text transform="translate(815 406.3) scale(1.066 1)" font-family='"Liberation Sans", Arial, sans-serif' font-size="9.7" fill="#000"  stroke="#000" stroke-width="0.22">3B</text>
<line x1="811.5" y1="385.5" x2="814" y2="385.5" stroke="#c4c498" stroke-width="1"/>
<text transform="translate(815 389.4) scale(1.066 1)" font-family='"Liberation Sans", Arial, sans-serif' font-size="9.7" fill="#000"  stroke="#000" stroke-width="0.22">4B</text>
<line x1="811.5" y1="489.5" x2="814" y2="489.5" stroke="#c4c498" stroke-width="1"/>
<text transform="translate(823.5 492.6) scale(1.066 1)" font-family='"Liberation Sans", Arial, sans-serif' font-size="9.7" fill="#000"  stroke="#000" stroke-width="0.22">0</text>
<line x1="811.5" y1="507.5" x2="814" y2="507.5" stroke="#c4c498" stroke-width="1"/>
<text transform="translate(815 511.2) scale(1.066 1)" font-family='"Liberation Sans", Arial, sans-serif' font-size="9.7" fill="#000"  stroke="#000" stroke-width="0.22">-20</text>
<line x1="811.5" y1="525.5" x2="814" y2="525.5" stroke="#c4c498" stroke-width="1"/>
<text transform="translate(815 528.8) scale(1.066 1)" font-family='"Liberation Sans", Arial, sans-serif' font-size="9.7" fill="#000"  stroke="#000" stroke-width="0.22">-40</text>
<line x1="811.5" y1="559.5" x2="814" y2="559.5" stroke="#c4c498" stroke-width="1"/>
<text transform="translate(815 563.3) scale(1.066 1)" font-family='"Liberation Sans", Arial, sans-serif' font-size="9.7" fill="#000"  stroke="#000" stroke-width="0.22">80</text>
<line x1="811.5" y1="601.5" x2="814" y2="601.5" stroke="#c4c498" stroke-width="1"/>
<text transform="translate(815 605.3) scale(1.066 1)" font-family='"Liberation Sans", Arial, sans-serif' font-size="9.7" fill="#000"  stroke="#000" stroke-width="0.22">20</text>
<text transform="translate(42.9 368) scale(1.03 1)" font-family='"Liberation Sans", Arial, sans-serif' font-size="9.7" text-anchor="middle" fill="#000"  stroke="#000" stroke-width="0.22">9</text>
<text transform="translate(67.9 368) scale(1.03 1)" font-family='"Liberation Sans", Arial, sans-serif' font-size="9.7" text-anchor="middle" fill="#000"  stroke="#000" stroke-width="0.22">16</text>
<text transform="translate(93.9 368) scale(1.03 1)" font-family='"Liberation Sans", Arial, sans-serif' font-size="9.7" text-anchor="middle" fill="#000"  stroke="#000" stroke-width="0.22">23</text>
<text x="119.7" y="367.5" font-family='"Liberation Sans", Arial, sans-serif' font-size="10.9" font-weight="bold" text-anchor="middle" fill="#000"  stroke="#000" stroke-width="0.22">Dec</text>
<text transform="translate(138.9 368) scale(1.03 1)" font-family='"Liberation Sans", Arial, sans-serif' font-size="9.7" text-anchor="middle" fill="#000"  stroke="#000" stroke-width="0.22">7</text>
<text transform="translate(163.9 368) scale(1.03 1)" font-family='"Liberation Sans", Arial, sans-serif' font-size="9.7" text-anchor="middle" fill="#000"  stroke="#000" stroke-width="0.22">14</text>
<text transform="translate(188.9 368) scale(1.03 1)" font-family='"Liberation Sans", Arial, sans-serif' font-size="9.7" text-anchor="middle" fill="#000"  stroke="#000" stroke-width="0.22">21</text>
<text transform="translate(208.9 368) scale(1.03 1)" font-family='"Liberation Sans", Arial, sans-serif' font-size="9.7" text-anchor="middle" fill="#000"  stroke="#000" stroke-width="0.22">28</text>
<text x="230.7" y="367.5" font-family='"Liberation Sans", Arial, sans-serif' font-size="10.9" font-weight="bold" text-anchor="middle" fill="#000"  stroke="#000" stroke-width="0.22">2016</text>
<text transform="translate(254.9 368) scale(1.03 1)" font-family='"Liberation Sans", Arial, sans-serif' font-size="9.7" text-anchor="middle" fill="#000"  stroke="#000" stroke-width="0.22">11</text>
<text transform="translate(279.9 368) scale(1.03 1)" font-family='"Liberation Sans", Arial, sans-serif' font-size="9.7" text-anchor="middle" fill="#000"  stroke="#000" stroke-width="0.22">19</text>
<text transform="translate(299.9 368) scale(1.03 1)" font-family='"Liberation Sans", Arial, sans-serif' font-size="9.7" text-anchor="middle" fill="#000"  stroke="#000" stroke-width="0.22">25</text>
<text x="325.7" y="367.5" font-family='"Liberation Sans", Arial, sans-serif' font-size="10.9" font-weight="bold" text-anchor="middle" fill="#000"  stroke="#000" stroke-width="0.22">Feb</text>
<text transform="translate(350.9 368) scale(1.03 1)" font-family='"Liberation Sans", Arial, sans-serif' font-size="9.7" text-anchor="middle" fill="#000"  stroke="#000" stroke-width="0.22">8</text>
<text transform="translate(375.9 368) scale(1.03 1)" font-family='"Liberation Sans", Arial, sans-serif' font-size="9.7" text-anchor="middle" fill="#000"  stroke="#000" stroke-width="0.22">16</text>
<text transform="translate(395.9 368) scale(1.03 1)" font-family='"Liberation Sans", Arial, sans-serif' font-size="9.7" text-anchor="middle" fill="#000"  stroke="#000" stroke-width="0.22">22</text>
<text x="426.7" y="367.5" font-family='"Liberation Sans", Arial, sans-serif' font-size="10.9" font-weight="bold" text-anchor="middle" fill="#000"  stroke="#000" stroke-width="0.22">Mar</text>
<text transform="translate(445.9 368) scale(1.03 1)" font-family='"Liberation Sans", Arial, sans-serif' font-size="9.7" text-anchor="middle" fill="#000"  stroke="#000" stroke-width="0.22">7</text>
<text transform="translate(470.9 368) scale(1.03 1)" font-family='"Liberation Sans", Arial, sans-serif' font-size="9.7" text-anchor="middle" fill="#000"  stroke="#000" stroke-width="0.22">14</text>
<text transform="translate(496.9 368) scale(1.03 1)" font-family='"Liberation Sans", Arial, sans-serif' font-size="9.7" text-anchor="middle" fill="#000"  stroke="#000" stroke-width="0.22">21</text>
<text transform="translate(516.9 368) scale(1.03 1)" font-family='"Liberation Sans", Arial, sans-serif' font-size="9.7" text-anchor="middle" fill="#000"  stroke="#000" stroke-width="0.22">28</text>
<text x="537.7" y="367.5" font-family='"Liberation Sans", Arial, sans-serif' font-size="10.9" font-weight="bold" text-anchor="middle" fill="#000"  stroke="#000" stroke-width="0.22">Apr</text>
<text transform="translate(566.9 368) scale(1.03 1)" font-family='"Liberation Sans", Arial, sans-serif' font-size="9.7" text-anchor="middle" fill="#000"  stroke="#000" stroke-width="0.22">11</text>
<text transform="translate(591.9 368) scale(1.03 1)" font-family='"Liberation Sans", Arial, sans-serif' font-size="9.7" text-anchor="middle" fill="#000"  stroke="#000" stroke-width="0.22">18</text>
<text transform="translate(617.9 368) scale(1.03 1)" font-family='"Liberation Sans", Arial, sans-serif' font-size="9.7" text-anchor="middle" fill="#000"  stroke="#000" stroke-width="0.22">25</text>
<text x="643.7" y="367.5" font-family='"Liberation Sans", Arial, sans-serif' font-size="10.9" font-weight="bold" text-anchor="middle" fill="#000"  stroke="#000" stroke-width="0.22">May</text>
<text transform="translate(667.9 368) scale(1.03 1)" font-family='"Liberation Sans", Arial, sans-serif' font-size="9.7" text-anchor="middle" fill="#000"  stroke="#000" stroke-width="0.22">9</text>
<text transform="translate(692.9 368) scale(1.03 1)" font-family='"Liberation Sans", Arial, sans-serif' font-size="9.7" text-anchor="middle" fill="#000"  stroke="#000" stroke-width="0.22">16</text>
<text transform="translate(717.9 368) scale(1.03 1)" font-family='"Liberation Sans", Arial, sans-serif' font-size="9.7" text-anchor="middle" fill="#000"  stroke="#000" stroke-width="0.22">23</text>
<text x="749.7" y="367.5" font-family='"Liberation Sans", Arial, sans-serif' font-size="10.9" font-weight="bold" text-anchor="middle" fill="#000"  stroke="#000" stroke-width="0.22">Jun</text>
<text transform="translate(763.9 368) scale(1.03 1)" font-family='"Liberation Sans", Arial, sans-serif' font-size="9.7" text-anchor="middle" fill="#000"  stroke="#000" stroke-width="0.22">6</text>
<text transform="translate(788.9 368) scale(1.03 1)" font-family='"Liberation Sans", Arial, sans-serif' font-size="9.7" text-anchor="middle" fill="#000"  stroke="#000" stroke-width="0.22">13</text>
<text transform="translate(42.9 633) scale(1.03 1)" font-family='"Liberation Sans", Arial, sans-serif' font-size="9.7" text-anchor="middle" fill="#000"  stroke="#000" stroke-width="0.22">9</text>
<text transform="translate(67.9 633) scale(1.03 1)" font-family='"Liberation Sans", Arial, sans-serif' font-size="9.7" text-anchor="middle" fill="#000"  stroke="#000" stroke-width="0.22">16</text>
<text transform="translate(93.9 633) scale(1.03 1)" font-family='"Liberation Sans", Arial, sans-serif' font-size="9.7" text-anchor="middle" fill="#000"  stroke="#000" stroke-width="0.22">23</text>
<text x="119.7" y="632.5" font-family='"Liberation Sans", Arial, sans-serif' font-size="10.9" font-weight="bold" text-anchor="middle" fill="#000"  stroke="#000" stroke-width="0.22">Dec</text>
<text transform="translate(138.9 633) scale(1.03 1)" font-family='"Liberation Sans", Arial, sans-serif' font-size="9.7" text-anchor="middle" fill="#000"  stroke="#000" stroke-width="0.22">7</text>
<text transform="translate(163.9 633) scale(1.03 1)" font-family='"Liberation Sans", Arial, sans-serif' font-size="9.7" text-anchor="middle" fill="#000"  stroke="#000" stroke-width="0.22">14</text>
<text transform="translate(188.9 633) scale(1.03 1)" font-family='"Liberation Sans", Arial, sans-serif' font-size="9.7" text-anchor="middle" fill="#000"  stroke="#000" stroke-width="0.22">21</text>
<text transform="translate(208.9 633) scale(1.03 1)" font-family='"Liberation Sans", Arial, sans-serif' font-size="9.7" text-anchor="middle" fill="#000"  stroke="#000" stroke-width="0.22">28</text>
<text x="230.7" y="632.5" font-family='"Liberation Sans", Arial, sans-serif' font-size="10.9" font-weight="bold" text-anchor="middle" fill="#000"  stroke="#000" stroke-width="0.22">2016</text>
<text transform="translate(254.9 633) scale(1.03 1)" font-family='"Liberation Sans", Arial, sans-serif' font-size="9.7" text-anchor="middle" fill="#000"  stroke="#000" stroke-width="0.22">11</text>
<text transform="translate(279.9 633) scale(1.03 1)" font-family='"Liberation Sans", Arial, sans-serif' font-size="9.7" text-anchor="middle" fill="#000"  stroke="#000" stroke-width="0.22">19</text>
<text transform="translate(299.9 633) scale(1.03 1)" font-family='"Liberation Sans", Arial, sans-serif' font-size="9.7" text-anchor="middle" fill="#000"  stroke="#000" stroke-width="0.22">25</text>
<text x="325.7" y="632.5" font-family='"Liberation Sans", Arial, sans-serif' font-size="10.9" font-weight="bold" text-anchor="middle" fill="#000"  stroke="#000" stroke-width="0.22">Feb</text>
<text transform="translate(350.9 633) scale(1.03 1)" font-family='"Liberation Sans", Arial, sans-serif' font-size="9.7" text-anchor="middle" fill="#000"  stroke="#000" stroke-width="0.22">8</text>
<text transform="translate(375.9 633) scale(1.03 1)" font-family='"Liberation Sans", Arial, sans-serif' font-size="9.7" text-anchor="middle" fill="#000"  stroke="#000" stroke-width="0.22">16</text>
<text transform="translate(395.9 633) scale(1.03 1)" font-family='"Liberation Sans", Arial, sans-serif' font-size="9.7" text-anchor="middle" fill="#000"  stroke="#000" stroke-width="0.22">22</text>
<text x="426.7" y="632.5" font-family='"Liberation Sans", Arial, sans-serif' font-size="10.9" font-weight="bold" text-anchor="middle" fill="#000"  stroke="#000" stroke-width="0.22">Mar</text>
<text transform="translate(445.9 633) scale(1.03 1)" font-family='"Liberation Sans", Arial, sans-serif' font-size="9.7" text-anchor="middle" fill="#000"  stroke="#000" stroke-width="0.22">7</text>
<text transform="translate(470.9 633) scale(1.03 1)" font-family='"Liberation Sans", Arial, sans-serif' font-size="9.7" text-anchor="middle" fill="#000"  stroke="#000" stroke-width="0.22">14</text>
<text transform="translate(496.9 633) scale(1.03 1)" font-family='"Liberation Sans", Arial, sans-serif' font-size="9.7" text-anchor="middle" fill="#000"  stroke="#000" stroke-width="0.22">21</text>
<text transform="translate(516.9 633) scale(1.03 1)" font-family='"Liberation Sans", Arial, sans-serif' font-size="9.7" text-anchor="middle" fill="#000"  stroke="#000" stroke-width="0.22">28</text>
<text x="537.7" y="632.5" font-family='"Liberation Sans", Arial, sans-serif' font-size="10.9" font-weight="bold" text-anchor="middle" fill="#000"  stroke="#000" stroke-width="0.22">Apr</text>
<text transform="translate(566.9 633) scale(1.03 1)" font-family='"Liberation Sans", Arial, sans-serif' font-size="9.7" text-anchor="middle" fill="#000"  stroke="#000" stroke-width="0.22">11</text>
<text transform="translate(591.9 633) scale(1.03 1)" font-family='"Liberation Sans", Arial, sans-serif' font-size="9.7" text-anchor="middle" fill="#000"  stroke="#000" stroke-width="0.22">18</text>
<text transform="translate(617.9 633) scale(1.03 1)" font-family='"Liberation Sans", Arial, sans-serif' font-size="9.7" text-anchor="middle" fill="#000"  stroke="#000" stroke-width="0.22">25</text>
<text x="643.7" y="632.5" font-family='"Liberation Sans", Arial, sans-serif' font-size="10.9" font-weight="bold" text-anchor="middle" fill="#000"  stroke="#000" stroke-width="0.22">May</text>
<text transform="translate(667.9 633) scale(1.03 1)" font-family='"Liberation Sans", Arial, sans-serif' font-size="9.7" text-anchor="middle" fill="#000"  stroke="#000" stroke-width="0.22">9</text>
<text transform="translate(692.9 633) scale(1.03 1)" font-family='"Liberation Sans", Arial, sans-serif' font-size="9.7" text-anchor="middle" fill="#000"  stroke="#000" stroke-width="0.22">16</text>
<text transform="translate(717.9 633) scale(1.03 1)" font-family='"Liberation Sans", Arial, sans-serif' font-size="9.7" text-anchor="middle" fill="#000"  stroke="#000" stroke-width="0.22">23</text>
<text x="749.7" y="632.5" font-family='"Liberation Sans", Arial, sans-serif' font-size="10.9" font-weight="bold" text-anchor="middle" fill="#000"  stroke="#000" stroke-width="0.22">Jun</text>
<text transform="translate(763.9 633) scale(1.03 1)" font-family='"Liberation Sans", Arial, sans-serif' font-size="9.7" text-anchor="middle" fill="#000"  stroke="#000" stroke-width="0.22">6</text>
<text transform="translate(788.9 633) scale(1.03 1)" font-family='"Liberation Sans", Arial, sans-serif' font-size="9.7" text-anchor="middle" fill="#000"  stroke="#000" stroke-width="0.22">13</text>
<clipPath id="cr"><rect x="800" y="0" width="55.5" height="648"/></clipPath><clipPath id="ct"><rect x="800" y="0" width="54.700" height="648"/></clipPath>
<path d="M809.5 71.4L813.5 66.8H843V76H813.5Z" fill="#fff" stroke="#24248c" stroke-width="1.1"/>
<g clip-path="url(#ct)">
<text transform="translate(814.5 74.8) scale(1.066 1)" font-family='"Liberation Sans", Arial, sans-serif' font-size="9.7" fill="#000"  stroke="#000" stroke-width="0.22">55.78</text>
</g>
<path d="M809.5 155.7L813.5 151.1H854V160.3H813.5Z" fill="#fff" stroke="#24248c" stroke-width="1.1"/>
<g clip-path="url(#ct)">
<text transform="translate(814.5 159.1) scale(1.066 1)" font-family='"Liberation Sans", Arial, sans-serif' font-size="9.7" fill="#000"  stroke="#000" stroke-width="0.22">2076.44</text>
</g>
<path d="M809.5 150.4L813.5 145.4H854V155.4H813.5Z" fill="#fff" stroke="#000" stroke-width="1.1"/>
<text x="814" y="154.1" font-family='"Liberation Sans", Arial, sans-serif' font-size="10.6" font-weight="bold" textLength="38.9" lengthAdjust="spacing" fill="#000" clip-path="url(#cr)" stroke="#000" stroke-width="0.22">2081.43</text>
<path d="M809.5 184.5L813.5 179.9H854V189.1H813.5Z" fill="#fff" stroke="#2a6a2a" stroke-width="1.1"/>
<g clip-path="url(#ct)">
<text transform="translate(814.5 187.9) scale(1.066 1)" font-family='"Liberation Sans", Arial, sans-serif' font-size="9.7" fill="#000"  stroke="#000" stroke-width="0.22">2035.58</text>
</g>
<path d="M809.5 200.2L813.5 195.6H854V204.8H813.5Z" fill="#fff" stroke="#b02040" stroke-width="1.1"/>
<g clip-path="url(#ct)">
<text transform="translate(814.5 203.6) scale(1.066 1)" font-family='"Liberation Sans", Arial, sans-serif' font-size="9.7" fill="#000"  stroke="#000" stroke-width="0.22">2014.31</text>
</g>
<path d="M860 411.2H813.5L809.5 415.8L813.5 420.4H860" fill="#fff" stroke="#000" stroke-width="1.1" clip-path="url(#cr)"/>
<g clip-path="url(#ct)">
<text transform="translate(814.5 419.2) scale(1.066 1)" font-family='"Liberation Sans", Arial, sans-serif' font-size="9.7" fill="#000"  stroke="#000" stroke-width="0.22">2238447872</text>
</g>
<path d="M809.5 474.6L813.5 470H848.6V479.2H813.5Z" fill="#fff" stroke="#3030a8" stroke-width="1.1"/>
<g clip-path="url(#ct)">
<text transform="translate(814.5 478) scale(1.066 1)" font-family='"Liberation Sans", Arial, sans-serif' font-size="9.7" fill="#000"  stroke="#000" stroke-width="0.22">18.021</text>
</g>
<path d="M809.5 478.9L813.5 474.3H848.6V483.5H813.5Z" fill="#fff" stroke="#000" stroke-width="1.1"/>
<g clip-path="url(#ct)">
<text transform="translate(814.5 482.3) scale(1.066 1)" font-family='"Liberation Sans", Arial, sans-serif' font-size="9.7" fill="#000"  stroke="#000" stroke-width="0.22">13.452</text>
</g>
<path d="M809.5 495L813.5 490.4H845V499.6H813.5Z" fill="#fff" stroke="#b0b0b0" stroke-width="1.1"/>
<g clip-path="url(#ct)">
<text transform="translate(814.5 498.4) scale(1.066 1)" font-family='"Liberation Sans", Arial, sans-serif' font-size="9.7" fill="#000"  stroke="#000" stroke-width="0.22">-4.569</text>
</g>
<path d="M809.5 576.2L813.5 571.6H842.7V580.8H813.5Z" fill="#fff" stroke="#d02020" stroke-width="1.1"/>
<g clip-path="url(#ct)">
<text transform="translate(814.5 579.6) scale(1.066 1)" font-family='"Liberation Sans", Arial, sans-serif' font-size="9.7" fill="#000"  stroke="#000" stroke-width="0.22">55.93</text>
</g>
<path d="M809.5 584.9L813.5 580.3H842.7V589.5H813.5Z" fill="#fff" stroke="#000" stroke-width="1.1"/>
<g clip-path="url(#ct)">
<text transform="translate(814.5 588.3) scale(1.066 1)" font-family='"Liberation Sans", Arial, sans-serif' font-size="9.7" fill="#000"  stroke="#000" stroke-width="0.22">45.34</text>
</g>
<text x="21.3" y="18.6" font-family='"Liberation Sans", Arial, sans-serif' font-size="13" font-weight="bold" textLength="33.2" lengthAdjust="spacing" fill="#000" >$SPX</text>
<text x="58" y="18" font-family='"Liberation Sans", Arial, sans-serif' font-size="10.7" textLength="123.5" lengthAdjust="spacing" fill="#000"  stroke="#000" stroke-width="0.22">S&amp;P 500 Large Cap Index</text>
<text x="186" y="18" font-family='"Liberation Sans", Arial, sans-serif' font-size="9.3" textLength="23.3" lengthAdjust="spacing" fill="#000"  stroke="#000" stroke-width="0.22">INDX</text>
<text transform="translate(21.3 31) scale(1.061 1)" font-family='"Liberation Sans", Arial, sans-serif' font-size="9.7" fill="#000"  stroke="#000" stroke-width="0.22">2-May-2016</text>
<text x="721.7" y="17.6" font-family='"Liberation Sans", Arial, sans-serif' font-size="10.6" textLength="89.3" lengthAdjust="spacing" fill="#505050"  stroke="#505050" stroke-width="0.22">©StockCharts.com</text>
<text x="322.5" y="30.9" font-family='"Liberation Sans", Arial, sans-serif' font-size="10.5" font-weight="bold" textLength="28.2" lengthAdjust="spacing" fill="#000"  stroke="#000" stroke-width="0.22">Open</text>
<text transform="translate(355 31) scale(1.069 1)" font-family='"Liberation Sans", Arial, sans-serif' font-size="9.7" fill="#000"  stroke="#000" stroke-width="0.22">2067.17</text>
<text x="399.5" y="30.9" font-family='"Liberation Sans", Arial, sans-serif' font-size="10.5" font-weight="bold" textLength="23.3" lengthAdjust="spacing" fill="#000"  stroke="#000" stroke-width="0.22">High</text>
<text transform="translate(427 31) scale(1.084 1)" font-family='"Liberation Sans", Arial, sans-serif' font-size="9.7" fill="#000"  stroke="#000" stroke-width="0.22">2083.42</text>
<text x="472" y="30.9" font-family='"Liberation Sans", Arial, sans-serif' font-size="10.5" font-weight="bold" textLength="22.5" lengthAdjust="spacing" fill="#000"  stroke="#000" stroke-width="0.22">Low</text>
<text transform="translate(498.8 31) scale(1.112 1)" font-family='"Liberation Sans", Arial, sans-serif' font-size="9.7" fill="#000"  stroke="#000" stroke-width="0.22">2066.11</text>
<text x="543.8" y="30.9" font-family='"Liberation Sans", Arial, sans-serif' font-size="10.5" font-weight="bold" textLength="31.2" lengthAdjust="spacing" fill="#000"  stroke="#000" stroke-width="0.22">Close</text>
<text transform="translate(578.8 31) scale(1.104 1)" font-family='"Liberation Sans", Arial, sans-serif' font-size="9.7" fill="#000"  stroke="#000" stroke-width="0.22">2081.43</text>
<text x="624.3" y="30.9" font-family='"Liberation Sans", Arial, sans-serif' font-size="10.5" font-weight="bold" textLength="41.5" lengthAdjust="spacing" fill="#000"  stroke="#000" stroke-width="0.22">Volume</text>
<text transform="translate(670 31) scale(1.06 1)" font-family='"Liberation Sans", Arial, sans-serif' font-size="9.7" fill="#000"  stroke="#000" stroke-width="0.22">2.2</text>
<text x="697.5" y="30.9" font-family='"Liberation Sans", Arial, sans-serif' font-size="10.5" font-weight="bold" textLength="21.8" lengthAdjust="spacing" fill="#000"  stroke="#000" stroke-width="0.22">Chg</text>
<text transform="translate(723 31) scale(1.079 1)" font-family='"Liberation Sans", Arial, sans-serif' font-size="9.7" fill="#000"  stroke="#000" stroke-width="0.22">+16.13 (+0.78%)</text>
<text transform="translate(684.8 31) scale(1.08 1)" font-family='"Liberation Sans", Arial, sans-serif' font-size="8.8" fill="#000"  stroke="#000" stroke-width="0.22">B</text>
<path d="M803.5 29.800l3.800-4 3.800 4z" fill="#3a6a3a"/>
<text x="36" y="44" font-family='"DejaVu Sans", Verdana, sans-serif' font-size="9.4" textLength="80" lengthAdjust="spacing" fill="#000"  stroke="#000" stroke-width="0.22">RSI(14) 55.78</text>
<path d="M24 43.600l4.500-7.600 2.300 4.200 2.200-2.400v5.800z" fill="#1c0c7c"/>
<text x="36.8" y="127.8" font-family='"DejaVu Sans", Verdana, sans-serif' font-size="9.4" textLength="117.5" lengthAdjust="spacing" fill="#000"  stroke="#000" stroke-width="0.22">$SPX (Daily) 2081.43</text>
<path d="M25.200 120.500v5M24.200 121.500h1M28.400 121v7.500M26.300 125.600l2.100 2.900 2.100-2.900M31.600 120.200v6M31.600 124h1.200" stroke="#000" stroke-width="1" fill="none"/>
<rect x="24.2" y="133.8" width="8.6" height="2" fill="#10107c"/>
<text transform="translate(34.5 138.8) scale(0.918 1)" font-family='"DejaVu Sans", Verdana, sans-serif' font-size="9.4" fill="#10107c"  stroke="#10107c" stroke-width="0.22">MA(20) 2076.44</text>
<rect x="24.2" y="144.7" width="8.6" height="2" fill="#a82020"/>
<text transform="translate(34.5 149.6) scale(0.904 1)" font-family='"DejaVu Sans", Verdana, sans-serif' font-size="9.4" fill="#a01c1c"  stroke="#a01c1c" stroke-width="0.22">MA(200) 2014.31</text>
<rect x="24.2" y="155.7" width="8.6" height="2" fill="#0c600c"/>
<text transform="translate(34.5 160.8) scale(0.909 1)" font-family='"DejaVu Sans", Verdana, sans-serif' font-size="9.4" fill="#0c600c"  stroke="#0c600c" stroke-width="0.22">MA(50) 2035.58</text>
<path d="M24 381.500v-4.500h3v4.500zM27 381.500v-8.200h3v8.200zM30 381.500v-6.500h3v6.500z" fill="#5a5a48" stroke="#44442f" stroke-width="0.6"/>
<text x="36.5" y="382" font-family='"DejaVu Sans", Verdana, sans-serif' font-size="9.4" textLength="127.5" lengthAdjust="spacing" fill="#000"  stroke="#000" stroke-width="0.22">Volume 2,238,447,872</text>
<line x1="24" y1="462" x2="33" y2="462" stroke="#000" stroke-width="2"/>
<text x="36" y="466" font-family='"DejaVu Sans", Verdana, sans-serif' font-size="9.4" textLength="219.5" lengthAdjust="spacing" stroke="#000" stroke-width="0.22">MACD(12,26,9) 13.452,<tspan fill="#1a1a80" stroke="#1a1a80"> 18.021,</tspan><tspan fill="#888" stroke="#888"> -4.569</tspan></text>
<line x1="24" y1="546" x2="33" y2="546" stroke="#000" stroke-width="2"/>
<text x="36" y="550" font-family='"DejaVu Sans", Verdana, sans-serif' font-size="9.4" textLength="218.5" lengthAdjust="spacing" stroke="#000" stroke-width="0.22">Full STO %K(14,3) %D(3) 45.34,<tspan fill="#b01818" stroke="#b01818"> 55.93</tspan></text>
<text x="284.6" y="114.7" font-family='"Liberation Sans", Arial, sans-serif' font-size="20" font-weight="bold" textLength="164.5" lengthAdjust="spacing" fill="#e0103a" stroke="#e0103a" stroke-width="0.35">$2134.72 are the</text>
<text x="284.6" y="140.1" font-family='"Liberation Sans", Arial, sans-serif' font-size="20" font-weight="bold" textLength="159.5" lengthAdjust="spacing" fill="#e0103a" stroke="#e0103a" stroke-width="0.35">MAY 2015 highs</text>
<text x="674" y="79.2" font-family='"Liberation Sans", Arial, sans-serif' font-size="19.8" font-weight="bold" textLength="86.8" lengthAdjust="spacing" fill="#e0103a" stroke="#e0103a" stroke-width="0.35">Remains</text>
<text x="674" y="105.1" font-family='"Liberation Sans", Arial, sans-serif' font-size="19.8" font-weight="bold" textLength="64.2" lengthAdjust="spacing" fill="#e0103a" stroke="#e0103a" stroke-width="0.35">bullish</text>
<line x1="672" y1="75.3" x2="763" y2="75.3" stroke="#24146c" stroke-width="1.2" stroke-dasharray="7,3,2,3" stroke-dashoffset="5.5" opacity="0.8"/>
<ellipse cx="639" cy="156.5" rx="27" ry="22" fill="none" stroke="#e866c8" stroke-width="1.3"/>
<ellipse cx="634" cy="71.4" rx="17.8" ry="15.4" fill="none" stroke="#1a641a" stroke-width="2.2"/>
<path d="M177.7 563h7.4v8.2h4.3l-8.2 8-8.2-8h4.7z" fill="#ff30e0"/>
<path d="M529 578.2h8.5v-3.4l7.2 7.2-7.2 7v-3.300h-8.5z" fill="#ff30e0"/>
<path d="M613 578.2h8.5v-3.4l7.2 7.2-7.2 7v-3.300h-8.5z" fill="#ff30e0"/>
</svg>
</body></html>
